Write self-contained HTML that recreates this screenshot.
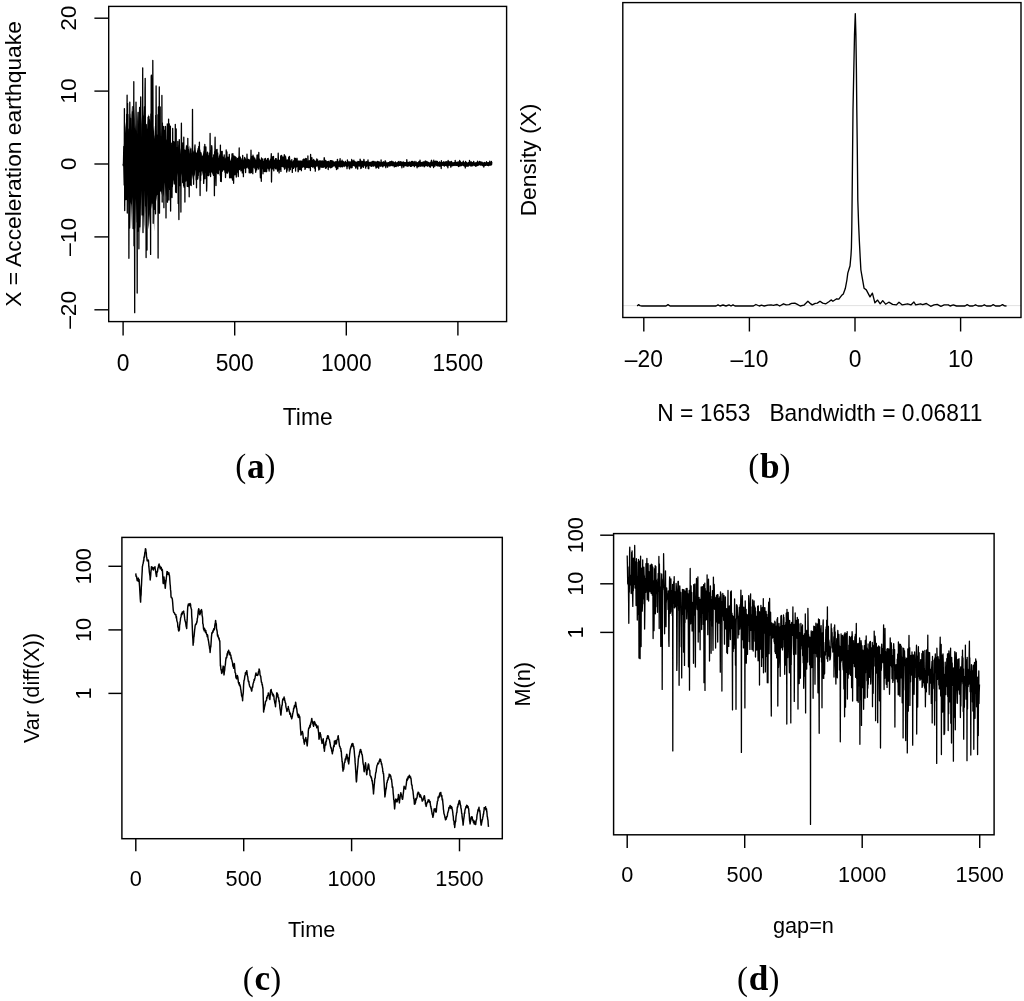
<!DOCTYPE html>
<html><head><meta charset="utf-8"><title>Figure</title>
<style>
html,body{margin:0;padding:0;background:#fff;}
body{width:1024px;height:1001px;overflow:hidden;}
svg{display:block;}
</style></head>
<body>
<svg width="1024" height="1001" viewBox="0 0 1024 1001" font-family="'Liberation Sans', Arial, Helvetica, sans-serif" fill="#000">
<rect width="1024" height="1001" fill="#fff"/>
<polygon fill="#000" points="123.3,164 124,142.7 124.7,132.3 125.4,121.7 126.1,135.1 126.8,123.6 127.5,146.1 128.2,127.9 128.9,129.5 129.6,116.7 130.3,112.9 131,131.1 131.7,105.6 132.4,128.6 133.1,143.9 133.8,147.3 134.5,107.1 135.2,123.9 135.9,129.8 136.6,130.9 137.3,134.5 138,109.9 138.7,124.6 139.4,105.9 140.1,126 140.8,147.6 141.5,115.9 142.2,128.1 142.9,126.9 143.6,109.3 144.3,127.4 145,113.7 145.7,125.2 146.4,132.6 147.1,120.5 147.8,131.3 148.5,113.9 149.2,116.7 149.9,125.4 150.6,121 151.3,122.3 152,130.7 152.7,121.1 153.4,131.7 154.1,125.4 154.8,139.1 155.5,131.2 156.2,129.6 156.9,139.6 157.6,137.4 158.3,139 159,130.8 159.7,141.6 160.4,134.4 161.1,127.9 161.8,136.2 162.5,149.1 163.2,138.9 163.9,134 164.6,142.5 165.3,135.1 166,138.6 166.7,140 167.4,144 168.1,145.6 168.8,144.5 169.5,143.1 170.2,141.1 170.9,142 171.6,145.8 172.3,144.3 173,143.1 173.7,152.8 174.4,149.1 175.1,149.5 175.8,147.1 176.5,147.7 177.2,147.9 177.9,150.7 178.6,144.6 179.3,146.5 180,154.5 180.7,148.1 181.4,152.7 182.1,142 182.8,150.5 183.5,150.4 184.2,148.8 184.9,150.1 185.6,149.8 186.3,144.2 187,149.2 187.7,147.3 188.4,146.5 189.1,153.8 189.8,145.2 190.5,148.7 191.2,148.1 191.9,154.1 192.6,149 193.3,150.5 194,153.6 194.7,145.3 195.4,150.6 196.1,153.1 196.8,152 197.5,150.1 198.2,149.7 198.9,151.4 199.6,149.9 200.3,149.4 201,156.7 201.7,154.9 202.4,156.1 203.1,153.7 203.8,150.5 204.5,152.6 205.2,156.9 205.9,155.2 206.6,152.3 207.3,156 208,155.2 208.7,154.4 209.4,159.2 210.1,153.6 210.8,154.6 211.5,154.2 212.2,157.6 212.9,157.3 213.6,157 214.3,155.4 215,155.8 215.7,155.8 216.4,152.7 217.1,153.7 217.8,157.7 218.5,157.7 219.2,153.4 219.9,157.2 220.6,154.3 221.3,154 222,157.9 222.7,157.5 223.4,156.9 224.1,158.6 224.8,158.8 225.5,157.9 226.2,155.8 226.9,158.1 227.6,157.7 228.3,158.2 229,159.7 229.7,155.1 230.4,161.3 231.1,158.7 231.8,156.8 232.5,159.9 233.2,156.8 233.9,155.9 234.6,159.2 235.3,157.6 236,159.6 236.7,157.3 237.4,157.9 238.1,157.8 238.8,156.2 239.5,157.5 240.2,156.4 240.9,157.4 241.6,160.1 242.3,158.1 243,157.8 243.7,160.5 244.4,156.8 245.1,158.5 245.8,158.2 246.5,159.9 247.2,158.7 247.9,158.4 248.6,159.3 249.3,158.8 250,161.6 250.7,157.3 251.4,160.4 252.1,161.7 252.8,160.3 253.5,160.1 254.2,158.5 254.9,160.3 255.6,158.8 256.3,160.3 257,156.6 257.7,158.6 258.4,157 259.1,160.5 259.8,158.6 260.5,160.5 261.2,158.7 261.9,158.6 262.6,161.2 263.3,160.7 264,160.8 264.7,161.2 265.4,160.3 266.1,160.6 266.8,161.2 267.5,159.5 268.2,159 268.9,161.1 269.6,160.3 270.3,159.7 271,160 271.7,160.5 272.4,158.9 273.1,158.9 273.8,159.1 274.5,160.1 275.2,157.9 275.9,158.1 276.6,160.3 277.3,160.1 278,158.8 278.7,160.8 279.4,159.6 280.1,160 280.8,160.8 281.5,160.3 282.2,161.7 282.9,160.7 283.6,162.1 284.3,158.1 285,158.8 285.7,159.1 286.4,160 287.1,159.4 287.8,159.2 288.5,159.4 289.2,159.6 289.9,161.2 290.6,160.1 291.3,160.9 292,161.5 292.7,161.5 293.4,160.2 294.1,159.7 294.8,161.8 295.5,159.1 296.2,159.4 296.9,161 297.6,161.1 298.3,160.8 299,159.9 299.7,161.1 300.4,161.7 301.1,160.6 301.8,162.5 302.5,160.8 303.2,160 303.9,160.7 304.6,160.4 305.3,160.6 306,160.5 306.7,160.9 307.4,161.6 308.1,161.2 308.8,161.1 309.5,160.1 310.2,159.9 310.9,160.8 311.6,161.6 312.3,161.6 313,161.2 313.7,160.1 314.4,160.9 315.1,161.2 315.8,161.7 316.5,160.5 317.2,160.9 317.9,161.2 318.6,161.1 319.3,160 320,161.3 320.7,160 321.4,160.3 322.1,161.2 322.8,160.6 323.5,161.3 324.2,161.8 324.9,161.4 325.6,161.9 326.3,160.9 327,161.3 327.7,160.9 328.4,160.7 329.1,163.4 329.8,161.1 330.5,162.5 331.2,161.2 331.9,161.9 332.6,161.3 333.3,160.5 334,162.5 334.7,161.3 335.4,161.5 336.1,162.6 336.8,161 337.5,161.4 338.2,161.8 338.9,161.9 339.6,159.4 340.3,161.7 341,162.6 341.7,162.1 342.4,161.7 343.1,161.7 343.8,161.6 344.5,162.2 345.2,161.2 345.9,161.8 346.6,162.4 347.3,162.1 348,161.8 348.7,161.1 349.4,161.3 350.1,161.8 350.8,161.6 351.5,161.5 352.2,160.4 352.9,162 353.6,161.4 354.3,161.2 355,162.2 355.7,161.5 356.4,161.6 357.1,161.9 357.8,161.3 358.5,161.1 359.2,161 359.9,161.8 360.6,161.6 361.3,160.3 362,162.3 362.7,161.6 363.4,161.2 364.1,161.6 364.8,161.3 365.5,161.6 366.2,161.3 366.9,161 367.6,161.9 368.3,161.6 369,161.8 369.7,162 370.4,161.8 371.1,162.4 371.8,161.4 372.5,160.8 373.2,160.8 373.9,161.1 374.6,162.3 375.3,161 376,162.2 376.7,161.8 377.4,160.8 378.1,162.4 378.8,161.4 379.5,161.7 380.2,161.9 380.9,162.3 381.6,161.6 382.3,162.1 383,161.3 383.7,161.2 384.4,162.6 385.1,162.1 385.8,162.1 386.5,162.5 387.2,162.5 387.9,161.9 388.6,162 389.3,162.8 390,162.2 390.7,161.7 391.4,162.6 392.1,162.4 392.8,161.1 393.5,161.3 394.2,162.8 394.9,162.6 395.6,161.8 396.3,162.6 397,162.1 397.7,162.2 398.4,161.7 399.1,163.3 399.8,163.1 400.5,162.6 401.2,161.5 401.9,162.1 402.6,162.9 403.3,161.8 404,161.7 404.7,162.1 405.4,162.2 406.1,161.8 406.8,161.4 407.5,162 408.2,161.8 408.9,162.1 409.6,162.2 410.3,162.5 411,161.9 411.7,162.2 412.4,162.2 413.1,161.6 413.8,161.8 414.5,161.7 415.2,162.8 415.9,161.8 416.6,162.4 417.3,162.5 418,162.5 418.7,161.5 419.4,161.7 420.1,162.4 420.8,162.6 421.5,162.1 422.2,162.3 422.9,161.3 423.6,162.8 424.3,163 425,162.3 425.7,162.1 426.4,162.1 427.1,161.8 427.8,161.2 428.5,162.3 429.2,162.4 429.9,163 430.6,162.1 431.3,161.8 432,162.3 432.7,161.6 433.4,162.2 434.1,161.5 434.8,162 435.5,162.7 436.2,162.5 436.9,162.9 437.6,163 438.3,162.1 439,161.8 439.7,161.3 440.4,162.2 441.1,162.3 441.8,162.7 442.5,161.8 443.2,162.1 443.9,162.5 444.6,161.9 445.3,162 446,163.1 446.7,161.9 447.4,162.2 448.1,162.4 448.8,162.4 449.5,161.5 450.2,161.6 450.9,161.5 451.6,162.8 452.3,162.6 453,161.9 453.7,162.8 454.4,162.6 455.1,163.1 455.8,161.5 456.5,161.9 457.2,162.1 457.9,162.2 458.6,162.5 459.3,162.5 460,162.1 460.7,162.6 461.4,161.8 462.1,162.5 462.8,162.7 463.5,161.8 464.2,162.4 464.9,162.1 465.6,162.5 466.3,163.3 467,162.1 467.7,162.9 468.4,161.9 469.1,163 469.8,163.1 470.5,162.3 471.2,162.2 471.9,162.3 472.6,162.9 473.3,162 474,163 474.7,162.6 475.4,162.7 476.1,162.6 476.8,162.1 477.5,162.7 478.2,162.2 478.9,162.2 479.6,163.1 480.3,162.9 481,162.6 481.7,162.7 482.4,162.3 483.1,163.2 483.8,162.2 484.5,162.2 485.2,162.5 485.9,163 486.6,162.5 487.3,162.7 488,162.3 488.7,162.5 489.4,162.2 490.1,162.7 490.8,162 491.5,163.4 491.5,165.1 490.8,166 490.1,165.1 489.4,165.5 488.7,165.3 488,165 487.3,165.4 486.6,165.7 485.9,165.3 485.2,165.4 484.5,165.6 483.8,165.3 483.1,165.7 482.4,166.1 481.7,164.9 481,165.7 480.3,165.5 479.6,165.2 478.9,164.3 478.2,165.9 477.5,165.9 476.8,166 476.1,165.8 475.4,165.4 474.7,165.4 474,165.5 473.3,165.7 472.6,165.4 471.9,165.5 471.2,165.3 470.5,165.4 469.8,164.7 469.1,165 468.4,165.8 467.7,165.2 467,165.4 466.3,166.2 465.6,165.7 464.9,165.2 464.2,165.5 463.5,165.8 462.8,166 462.1,165 461.4,165.7 460.7,165.6 460,165.6 459.3,166.2 458.6,165.6 457.9,165.8 457.2,166.4 456.5,165.7 455.8,165.5 455.1,165 454.4,165.8 453.7,166 453,166.1 452.3,165.7 451.6,165.7 450.9,165.8 450.2,166.2 449.5,165.3 448.8,165.7 448.1,166.2 447.4,165.7 446.7,166.1 446,165.2 445.3,166.3 444.6,165 443.9,165.9 443.2,165.7 442.5,165.8 441.8,166 441.1,165.9 440.4,165.9 439.7,166.1 439,165.8 438.3,165.6 437.6,165.8 436.9,165.5 436.2,165.1 435.5,165.5 434.8,165.8 434.1,166 433.4,166.5 432.7,165.9 432,165.8 431.3,165.6 430.6,166.2 429.9,166.2 429.2,165 428.5,165.9 427.8,165.8 427.1,165.8 426.4,166.2 425.7,166 425,166.4 424.3,165.2 423.6,165.8 422.9,165.3 422.2,167 421.5,165.3 420.8,166.2 420.1,166.4 419.4,166.3 418.7,165.6 418,165 417.3,165.6 416.6,166.1 415.9,165.1 415.2,165.9 414.5,166.8 413.8,166.3 413.1,166 412.4,164.4 411.7,166.4 411,166.1 410.3,166.5 409.6,165.8 408.9,165.8 408.2,165.7 407.5,165.9 406.8,166.7 406.1,165.5 405.4,165.6 404.7,165.8 404,165.6 403.3,165.6 402.6,165.3 401.9,166.1 401.2,166.9 400.5,165.8 399.8,165.9 399.1,165.9 398.4,165.8 397.7,165.5 397,165.1 396.3,165.7 395.6,165.1 394.9,165.7 394.2,165.8 393.5,165.5 392.8,166.3 392.1,165 391.4,165.8 390.7,165.8 390,165.9 389.3,165 388.6,166.6 387.9,166.1 387.2,165.9 386.5,166.2 385.8,166.2 385.1,166.6 384.4,166 383.7,166.3 383,166 382.3,167.1 381.6,166.2 380.9,166.2 380.2,166.9 379.5,165.1 378.8,165.5 378.1,165.7 377.4,165.8 376.7,165.9 376,165.5 375.3,166.5 374.6,165.2 373.9,166 373.2,165.5 372.5,166.3 371.8,166.3 371.1,166.1 370.4,165.4 369.7,165.9 369,166 368.3,165.9 367.6,165.7 366.9,167.1 366.2,166.7 365.5,165.9 364.8,165.9 364.1,165.4 363.4,165.9 362.7,166.7 362,166.3 361.3,167 360.6,166 359.9,165 359.2,166.2 358.5,165.4 357.8,166.1 357.1,166.4 356.4,167.2 355.7,166.7 355,167.3 354.3,166.3 353.6,165.8 352.9,165.4 352.2,165.5 351.5,166 350.8,166.1 350.1,166.3 349.4,165.8 348.7,166.2 348,165.9 347.3,167.5 346.6,165.5 345.9,165.5 345.2,166 344.5,166.6 343.8,165.9 343.1,166.7 342.4,167.7 341.7,166.9 341,167.4 340.3,167.3 339.6,166.1 338.9,167.2 338.2,166.6 337.5,165.3 336.8,167.3 336.1,165.2 335.4,165.1 334.7,165.4 334,166.4 333.3,166.1 332.6,166.9 331.9,166.7 331.2,166.5 330.5,166.5 329.8,166.8 329.1,165.7 328.4,166.3 327.7,166.2 327,166.2 326.3,166.4 325.6,166.7 324.9,167 324.2,166.3 323.5,167.4 322.8,167.3 322.1,167.2 321.4,167.4 320.7,167.8 320,167.3 319.3,166.8 318.6,166.2 317.9,166.4 317.2,166.4 316.5,166.2 315.8,167.2 315.1,167 314.4,166.2 313.7,167.1 313,167.6 312.3,166.8 311.6,167 310.9,167 310.2,167.5 309.5,166.1 308.8,167.4 308.1,168 307.4,167.3 306.7,168 306,168 305.3,166.6 304.6,168 303.9,167.4 303.2,167.2 302.5,168.1 301.8,167.6 301.1,167.7 300.4,167.5 299.7,165.9 299,167.1 298.3,167.5 297.6,167.1 296.9,166.8 296.2,167.9 295.5,166.5 294.8,166.4 294.1,167.3 293.4,168 292.7,166.4 292,167.4 291.3,167.8 290.6,167.4 289.9,168.3 289.2,167 288.5,167.9 287.8,168.8 287.1,166.7 286.4,167.3 285.7,169.3 285,166.8 284.3,167.4 283.6,167.6 282.9,167.7 282.2,165.9 281.5,165.6 280.8,167.2 280.1,166.7 279.4,165.6 278.7,167.8 278,166.1 277.3,168.8 276.6,167.8 275.9,167.3 275.2,167.1 274.5,166.4 273.8,167.2 273.1,167.9 272.4,167.5 271.7,168.3 271,167.5 270.3,167.9 269.6,168.4 268.9,168.1 268.2,168 267.5,169 266.8,167.1 266.1,168.1 265.4,168.9 264.7,167.3 264,169.6 263.3,167.1 262.6,168.5 261.9,168.3 261.2,169.8 260.5,168.3 259.8,166.3 259.1,167.7 258.4,167.5 257.7,168.4 257,167.9 256.3,169 255.6,168.3 254.9,168.4 254.2,166.1 253.5,168.4 252.8,167.5 252.1,167.1 251.4,167.8 250.7,168.9 250,170.4 249.3,169.9 248.6,168.8 247.9,169 247.2,166.8 246.5,169.1 245.8,166.4 245.1,167.5 244.4,169.2 243.7,168.9 243,168.5 242.3,168.8 241.6,169.1 240.9,172.2 240.2,169.4 239.5,169.3 238.8,169.8 238.1,170.5 237.4,170.4 236.7,170.1 236,170.9 235.3,170.6 234.6,171.2 233.9,170.8 233.2,169 232.5,169 231.8,170.6 231.1,169.2 230.4,169.6 229.7,167.6 229,169.3 228.3,170.7 227.6,169.2 226.9,170.5 226.2,168.7 225.5,170.5 224.8,167.3 224.1,168.1 223.4,169.8 222.7,169.7 222,166.9 221.3,170.1 220.6,169.4 219.9,171.1 219.2,169.8 218.5,168.1 217.8,169.4 217.1,170.2 216.4,170.1 215.7,169 215,169.9 214.3,171.4 213.6,171.4 212.9,172.6 212.2,174.8 211.5,167.5 210.8,170.3 210.1,172.5 209.4,172.9 208.7,171.5 208,170.8 207.3,171 206.6,173.3 205.9,173.4 205.2,172 204.5,171.5 203.8,170.7 203.1,169.6 202.4,175.8 201.7,170 201,171.8 200.3,170.7 199.6,170.5 198.9,173.9 198.2,170.8 197.5,173.3 196.8,173.3 196.1,176 195.4,168.2 194.7,176.8 194,174.8 193.3,171.6 192.6,180.1 191.9,172.9 191.2,177.9 190.5,178.7 189.8,171.9 189.1,175.8 188.4,179.9 187.7,171.4 187,177.6 186.3,172.8 185.6,177.8 184.9,178.1 184.2,178.6 183.5,172.2 182.8,179.8 182.1,178.6 181.4,173.3 180.7,177.4 180,178.9 179.3,184.7 178.6,184.1 177.9,176.2 177.2,172.7 176.5,183.3 175.8,180.2 175.1,184.3 174.4,183.2 173.7,179.3 173,183.5 172.3,182.3 171.6,185.2 170.9,184.4 170.2,186.3 169.5,176.8 168.8,181 168.1,189.5 167.4,184.9 166.7,194 166,196.9 165.3,188.8 164.6,182 163.9,193.6 163.2,197.1 162.5,187.5 161.8,194.9 161.1,191.6 160.4,184.6 159.7,196.2 159,201.5 158.3,195.7 157.6,194.8 156.9,195.6 156.2,201.5 155.5,191.5 154.8,199.3 154.1,231.8 153.4,202.6 152.7,201.1 152,209.2 151.3,204.8 150.6,179 149.9,214 149.2,222.9 148.5,229.6 147.8,208.4 147.1,194.3 146.4,219.2 145.7,210.2 145,189.7 144.3,229.2 143.6,217.3 142.9,214.2 142.2,204.8 141.5,190.2 140.8,233 140.1,205.1 139.4,175.9 138.7,214.1 138,210.8 137.3,223.6 136.6,222.1 135.9,198.8 135.2,229.3 134.5,222.4 133.8,217.4 133.1,218 132.4,196.9 131.7,207.1 131,229.5 130.3,202.2 129.6,204.1 128.9,205.3 128.2,197.9 127.5,192.2 126.8,199.8 126.1,187.3 125.4,201.8 124.7,182.9 124,183.6 123.3,164"/>
<polyline fill="none" stroke="#000" stroke-width="1.3" stroke-linejoin="round"  points="123.1,164 123.3,165.7 123.5,161.6 123.8,146.5 124,156.3 124.2,185.1 124.4,108.6 124.7,210.5 124.9,190.7 125.1,189.1 125.3,142.7 125.6,181.3 125.8,173.6 126,199.6 126.2,156.7 126.4,192.7 126.7,114.2 126.9,142.6 127.1,95.2 127.3,213.1 127.6,103.5 127.8,149.4 128,114.5 128.2,180 128.5,151.8 128.7,177.3 128.9,258.3 129.1,189.8 129.3,155.2 129.6,228.1 129.8,102.1 130,188.4 130.2,121.5 130.5,200.5 130.7,118.4 130.9,200.5 131.1,155.6 131.4,203.5 131.6,135.4 131.8,175.4 132,152.6 132.3,173.7 132.5,111.7 132.7,174.2 132.9,106.6 133.1,228.5 133.4,124.8 133.6,152.2 133.8,81.7 134,245.8 134.3,128.2 134.5,216.2 134.7,312.7 134.9,134.9 135.2,149.4 135.4,197.2 135.6,154 135.8,196.7 136,102.1 136.3,130.9 136.5,148.7 136.7,189.2 136.9,176.5 137.2,293 137.4,134.2 137.6,179.2 137.8,121.9 138.1,112.3 138.3,231.2 138.5,202.3 138.7,131.3 138.9,248.8 139.2,126.5 139.4,175.5 139.6,107.4 139.8,226.8 140.1,143.4 140.3,186.2 140.5,146.5 140.7,96.9 141,139.6 141.2,183.6 141.4,142.5 141.6,176.4 141.8,179.4 142.1,214.9 142.3,155.8 142.5,139.1 142.7,67.8 143,232.5 143.2,172.7 143.4,197.5 143.6,143.2 143.9,115.8 144.1,156.1 144.3,133.9 144.5,106.7 144.8,185 145,91.5 145.2,78.3 145.4,135.5 145.6,206.1 145.9,150.1 146.1,257.5 146.3,124.6 146.5,195.5 146.8,129.2 147,250 147.2,149.7 147.4,148.5 147.7,129.7 147.9,136.6 148.1,117.1 148.3,174.6 148.5,155.1 148.8,116.5 149,146.6 149.2,124 149.4,119.7 149.7,149.2 149.9,153.1 150.1,193.8 150.3,152 150.6,254.4 150.8,113.9 151,185.2 151.2,76.5 151.4,75.1 151.7,90.9 151.9,199.9 152.1,203.1 152.3,200.3 152.6,176.2 152.8,60.5 153,111.3 153.2,223.3 153.5,173.5 153.7,180.9 153.9,176.7 154.1,205.3 154.3,209.3 154.6,189.7 154.8,155.4 155,197.9 155.2,136 155.5,213.8 155.7,115.3 155.9,175.8 156.1,86 156.4,171 156.6,134.9 156.8,181 157,188.4 157.2,170.6 157.5,145.8 157.7,179.7 157.9,114.7 158.1,258 158.4,106.9 158.6,190.6 158.8,125.9 159,180.2 159.3,86.8 159.5,213.2 159.7,151.9 159.9,139.6 160.2,107 160.4,191 160.6,157.6 160.8,156.3 161,137.2 161.3,182.2 161.5,143.6 161.7,184.6 161.9,95.5 162.2,202.1 162.4,123 162.6,182.7 162.8,151.1 163.1,170.1 163.3,147.5 163.5,145.9 163.7,126.5 163.9,207.7 164.2,155.2 164.4,169.5 164.6,130.3 164.8,142.6 165.1,178 165.3,182.2 165.5,126.5 165.7,137 166,217.9 166.2,171.9 166.4,146.9 166.6,141.6 166.8,140.6 167.1,189.3 167.3,123.9 167.5,202.2 167.7,132 168,187.3 168.2,148.8 168.4,187.3 168.6,119.1 168.9,200.1 169.1,135.3 169.3,124 169.5,185.4 169.7,189.4 170,159.6 170.2,185.5 170.4,126.2 170.6,211.1 170.9,154.7 171.1,159.1 171.3,155.1 171.5,168.7 171.8,143.1 172,197.6 172.2,156.9 172.4,186.7 172.7,128.5 172.9,177.5 173.1,159 173.3,152.5 173.5,141.7 173.8,180 174,141.8 174.2,184 174.4,156.8 174.7,181.9 174.9,154 175.1,173.7 175.3,124.3 175.6,192.2 175.8,144.8 176,158.9 176.2,129 176.4,192.5 176.7,152.7 176.9,147.9 177.1,168.8 177.3,168.7 177.6,155.8 177.8,141.5 178,160.3 178.2,203.4 178.5,149.5 178.7,199.1 178.9,219.5 179.1,175.7 179.3,139.6 179.6,167.9 179.8,185.5 180,181.8 180.2,184.6 180.5,169.5 180.7,160.2 180.9,212.1 181.1,160.4 181.4,123.2 181.6,152.8 181.8,157.8 182,145.7 182.2,153.6 182.5,151.2 182.7,182.7 182.9,142.9 183.1,168.8 183.4,161.1 183.6,185.4 183.8,137.2 184,187 184.3,154.8 184.5,177.3 184.7,156.1 184.9,202.1 185.1,157.9 185.4,167.5 185.6,160.2 185.8,181 186,157.8 186.3,169 186.5,145.8 186.7,157 186.9,161.3 187.2,186.3 187.4,154.3 187.6,171.5 187.8,138.3 188.1,186.5 188.3,149.3 188.5,150 188.7,153.1 188.9,167.9 189.2,196.8 189.4,169.6 189.6,158.8 189.8,167.1 190.1,184.9 190.3,173.2 190.5,160.9 190.7,180.4 191,154 191.2,185.5 191.4,155.6 191.6,167.2 191.8,170.4 192.1,148.7 192.3,160.9 192.5,109.3 192.7,157.2 193,168.9 193.2,159.2 193.4,167.5 193.6,184.3 193.9,159.1 194.1,152.2 194.3,151.9 194.5,153.2 194.7,155.4 195,145 195.2,169.6 195.4,155.2 195.6,168.3 195.9,161.8 196.1,180 196.3,171.1 196.5,187.8 196.8,159.1 197,168.3 197.2,177.2 197.4,158.5 197.6,179.2 197.9,177.7 198.1,148.6 198.3,175.5 198.5,150.8 198.8,146.3 199,159.3 199.2,171.7 199.4,142.2 199.7,168 199.9,172 200.1,195.6 200.3,161.6 200.6,180.7 200.8,152.5 201,175.3 201.2,153.6 201.4,170.9 201.7,159.2 201.9,158.9 202.1,160 202.3,168.8 202.6,159.2 202.8,166.3 203,160.1 203.2,166.7 203.5,170.6 203.7,183.4 203.9,178.5 204.1,166.4 204.3,146.6 204.6,171.8 204.8,144.3 205,178.7 205.2,154.4 205.5,172.2 205.7,160.8 205.9,146.9 206.1,158.9 206.4,171.8 206.6,191 206.8,185.7 207,160.3 207.2,172.6 207.5,152.1 207.7,166.2 207.9,160.7 208.1,175.6 208.4,161.3 208.6,175.6 208.8,175.2 209,174.8 209.3,153.1 209.5,169.7 209.7,158 209.9,166.8 210.1,133.4 210.4,168.5 210.6,176.6 210.8,150.3 211,172.3 211.3,167.3 211.5,160.5 211.7,145.7 211.9,148.1 212.2,172.1 212.4,160.9 212.6,168.8 212.8,159.3 213,174 213.3,160.7 213.5,175.4 213.7,154.9 213.9,172.1 214.2,158.7 214.4,195.7 214.6,151.6 214.8,157.6 215.1,137.2 215.3,159.4 215.5,160.1 215.7,174.5 216,185.6 216.2,166.9 216.4,150 216.6,157.4 216.8,161.2 217.1,149.4 217.3,168.5 217.5,173.2 217.7,152.8 218,173.8 218.2,159.9 218.4,173.5 218.6,158.6 218.9,169 219.1,162.1 219.3,169.6 219.5,156.2 219.7,167.8 220,154.8 220.2,175.2 220.4,145.1 220.6,181.3 220.9,151.1 221.1,165.5 221.3,181.5 221.5,172.7 221.8,156.2 222,169.3 222.2,151.5 222.4,171.2 222.6,168.3 222.9,167.1 223.1,157.1 223.3,169.7 223.5,161.4 223.8,169.8 224,165.8 224.2,154.8 224.4,161.8 224.7,165.8 224.9,172.2 225.1,171.8 225.3,165.7 225.5,177.5 225.8,170 226,173 226.2,150 226.4,165.8 226.7,154.9 226.9,152 227.1,172.9 227.3,170.5 227.6,173.1 227.8,160 228,157.1 228.2,170.3 228.5,158.7 228.7,170.5 228.9,159.7 229.1,171.9 229.3,154.5 229.6,177.7 229.8,177.8 230,167.5 230.2,167 230.5,165.5 230.7,166.4 230.9,165.7 231.1,177.9 231.4,172.1 231.6,175.5 231.8,171.9 232,154 232.2,170.2 232.5,180 232.7,171.5 232.9,153.7 233.1,167.6 233.4,174.2 233.6,183.3 233.8,168.6 234,155.9 234.3,171.9 234.5,172.1 234.7,160.9 234.9,174.8 235.1,156.6 235.4,173.9 235.6,157.6 235.8,167.8 236,157.3 236.3,177 236.5,160.3 236.7,165.4 236.9,162.3 237.2,165.8 237.4,172.1 237.6,162.4 237.8,162.6 238,173 238.3,176.5 238.5,162 238.7,169.8 238.9,166.5 239.2,148 239.4,169.6 239.6,161.1 239.8,156.7 240.1,159.3 240.3,165.8 240.5,161.4 240.7,166.2 240.9,158.6 241.2,170.6 241.4,166.5 241.6,168.3 241.8,161.5 242.1,165.2 242.3,172.9 242.5,165.5 242.7,155.3 243,168.6 243.2,166.8 243.4,176.7 243.6,162.4 243.9,162 244.1,166 244.3,167.5 244.5,160.8 244.7,157.5 245,160.8 245.2,168.1 245.4,162.4 245.6,172.6 245.9,161.6 246.1,165.9 246.3,162.2 246.5,167.4 246.8,160 247,154.1 247.2,160.5 247.4,166.3 247.6,166.5 247.9,167.1 248.1,159.5 248.3,166.4 248.5,159.6 248.8,167.3 249,161.9 249.2,172.8 249.4,160.2 249.7,171 249.9,170.2 250.1,166.2 250.3,172.9 250.5,169.8 250.8,162.2 251,150.2 251.2,161.1 251.4,172.5 251.7,156.5 251.9,168.2 252.1,156.6 252.3,166.9 252.6,166.3 252.8,173.7 253,155.1 253.2,165.5 253.4,159.8 253.7,156.8 253.9,159.6 254.1,167.1 254.3,166.9 254.6,165.5 254.8,158.2 255,168.7 255.2,162.8 255.5,168.5 255.7,172.3 255.9,170.2 256.1,161.1 256.4,161.5 256.6,161.3 256.8,169.8 257,155.2 257.2,167.7 257.5,162.8 257.7,166.4 257.9,155 258.1,166.7 258.4,160.2 258.6,169 258.8,152.4 259,166.5 259.3,158.8 259.5,166.7 259.7,160.3 259.9,163 260.1,168.5 260.4,177.8 260.6,162.5 260.8,167.4 261,159.9 261.3,181.3 261.5,157.9 261.7,166.4 261.9,166.3 262.2,168.5 262.4,160.6 262.6,165.1 262.8,159 263,173.8 263.3,162.4 263.5,165.1 263.7,162.2 263.9,171 264.2,163 264.4,171.5 264.6,158.8 264.8,162.3 265.1,161 265.3,159.6 265.5,158.5 265.7,171.6 265.9,168.9 266.2,166.4 266.4,160.2 266.6,171.6 266.8,169.4 267.1,167 267.3,161 267.5,166.9 267.7,158.6 268,165.9 268.2,158.4 268.4,168.8 268.6,168.6 268.8,162.3 269.1,171.1 269.3,167.8 269.5,166 269.7,168.8 270,162.8 270.2,166.3 270.4,159.3 270.6,167.5 270.9,166.7 271.1,158 271.3,153.7 271.5,182 271.8,162.9 272,165.8 272.2,156.7 272.4,165.4 272.6,168.9 272.9,166.3 273.1,161.3 273.3,168.3 273.5,156.4 273.8,170.8 274,160.4 274.2,167.9 274.4,162.6 274.7,165.7 274.9,160.7 275.1,166.2 275.3,166.8 275.5,168.4 275.8,161.7 276,169 276.2,158.6 276.4,164.9 276.7,167.8 276.9,167.3 277.1,162.3 277.3,167.6 277.6,171.2 277.8,168.9 278,161.7 278.2,153.2 278.4,159.4 278.7,162.8 278.9,167.6 279.1,172.9 279.3,162.3 279.6,166.2 279.8,169.5 280,166.7 280.2,160.6 280.5,166.7 280.7,155.8 280.9,171.4 281.1,161.1 281.3,156.9 281.6,155.5 281.8,160.8 282,165.5 282.2,166.4 282.5,160.7 282.7,166 282.9,156.9 283.1,161.9 283.4,160.5 283.6,162 283.8,161 284,166 284.3,154.7 284.5,169.2 284.7,165.7 284.9,168.8 285.1,156 285.4,164.8 285.6,156.7 285.8,160 286,158.9 286.3,166.5 286.5,165 286.7,172 286.9,162 287.2,170.2 287.4,162.2 287.6,165.1 287.8,162.2 288,165 288.3,161.4 288.5,166.9 288.7,157.3 288.9,164.8 289.2,171.2 289.4,156.3 289.6,158.7 289.8,160.8 290.1,160.9 290.3,169.7 290.5,163.1 290.7,164.9 290.9,162.3 291.2,165 291.4,161.8 291.6,163 291.8,159.6 292.1,166 292.3,172.4 292.5,164.9 292.7,162.5 293,166.5 293.2,167.1 293.4,168.4 293.6,162.6 293.8,167.7 294.1,165.6 294.3,165.1 294.5,158.2 294.7,166.9 295,163.1 295.2,166.4 295.4,158.4 295.6,171.1 295.9,161.2 296.1,166.4 296.3,161.2 296.5,166.6 296.7,158.8 297,158.3 297.2,159.5 297.4,165.6 297.6,161.2 297.9,166.4 298.1,171.8 298.3,171.2 298.5,162.2 298.8,169.4 299,161.3 299.2,165.8 299.4,165.6 299.7,169.6 299.9,162.7 300.1,169.4 300.3,161 300.5,167.5 300.8,168.4 301,162 301.2,161.4 301.4,170.7 301.7,161.2 301.9,165 302.1,162.3 302.3,163.1 302.6,161.5 302.8,164.7 303,159.7 303.2,162.1 303.4,160.4 303.7,165.8 303.9,159 304.1,162.9 304.3,162.6 304.6,165.2 304.8,159.4 305,169.4 305.2,163.1 305.5,168.2 305.7,158.4 305.9,165.4 306.1,163.2 306.3,158.6 306.6,163.1 306.8,161.6 307,166.2 307.2,166.7 307.5,163.3 307.7,167.4 307.9,156 308.1,167.5 308.4,162.1 308.6,161 308.8,161.2 309,167.8 309.2,165.9 309.5,164.7 309.7,167.3 309.9,167.3 310.1,162.1 310.4,170.5 310.6,154.4 310.8,162.3 311,163 311.3,165.1 311.5,158.5 311.7,162.2 311.9,157.7 312.2,166.1 312.4,164.8 312.6,167 312.8,161.7 313,161.9 313.3,160.2 313.5,166.7 313.7,159.5 313.9,165.1 314.2,160.3 314.4,168.2 314.6,160.9 314.8,166.2 315.1,165 315.3,171.2 315.5,161.4 315.7,162.1 315.9,163.2 316.2,165.4 316.4,160.2 316.6,165.8 316.8,158.8 317.1,165.3 317.3,163.4 317.5,164.8 317.7,160 318,165.4 318.2,161.3 318.4,167.4 318.6,166.8 318.8,170 319.1,161.5 319.3,165.2 319.5,164.9 319.7,169.2 320,161.1 320.2,164.8 320.4,162.3 320.6,166.4 320.9,162.4 321.1,165.3 321.3,162.8 321.5,163.2 321.7,163.2 322,167.4 322.2,163.4 322.4,161.3 322.6,161 322.9,165.1 323.1,161.8 323.3,167.2 323.5,165 323.8,167.2 324,160.7 324.2,157.7 324.4,158.5 324.6,163 324.9,166.3 325.1,164.8 325.3,163.3 325.5,168.3 325.8,160.3 326,167.1 326.2,163.4 326.4,167.9 326.7,162.4 326.9,166.1 327.1,162.8 327.3,166.3 327.6,164.6 327.8,165.7 328,162.3 328.2,169.6 328.4,161.4 328.7,166.2 328.9,163.2 329.1,164.6 329.3,167 329.6,165.6 329.8,161.8 330,164.9 330.2,160.7 330.5,167.8 330.7,160.7 330.9,162 331.1,160.9 331.3,160.6 331.6,163.3 331.8,167.5 332,162.7 332.2,166.6 332.5,160.8 332.7,165.5 332.9,165.4 333.1,166.1 333.4,162.1 333.6,165.3 333.8,163.5 334,165.7 334.2,162.4 334.5,163.4 334.7,163.5 334.9,165.7 335.1,162.6 335.4,167 335.6,163.1 335.8,161.6 336,167.2 336.3,166.6 336.5,169.5 336.7,166.3 336.9,161.7 337.1,165.2 337.4,159.4 337.6,159.8 337.8,168.8 338,166.6 338.3,165.9 338.5,161.8 338.7,161.9 338.9,164.6 339.2,162.6 339.4,165.9 339.6,163.4 339.8,166.7 340.1,158.7 340.3,162.2 340.5,166.7 340.7,166.5 340.9,163.1 341.2,161.7 341.4,162.8 341.6,166.4 341.8,161.6 342.1,160.2 342.3,163.5 342.5,165.5 342.7,161.4 343,164.7 343.2,161.3 343.4,164.5 343.6,163.4 343.8,165.6 344.1,166.7 344.3,165.1 344.5,164.9 344.7,164.8 345,164.6 345.2,161.7 345.4,161.4 345.6,165.3 345.9,162.6 346.1,166.1 346.3,165.2 346.5,165.2 346.7,162.7 347,168.6 347.2,165.2 347.4,159.9 347.6,161.6 347.9,165.8 348.1,162.8 348.3,165.3 348.5,163.5 348.8,163.5 349,165 349.2,168.1 349.4,163.1 349.6,168.9 349.9,165.2 350.1,165.9 350.3,162.2 350.5,164.8 350.8,163.1 351,167.3 351.2,167.9 351.4,166.5 351.7,159.5 351.9,166.3 352.1,167.6 352.3,161.5 352.5,165.7 352.8,160.9 353,163 353.2,163 353.4,163.5 353.7,165.5 353.9,160.2 354.1,164.8 354.3,163.4 354.6,161.7 354.8,162.5 355,164.9 355.2,162 355.5,164.5 355.7,167.8 355.9,168.2 356.1,165 356.3,166.1 356.6,162.9 356.8,165.9 357,163.1 357.2,167 357.5,163.4 357.7,169 357.9,161.4 358.1,166.5 358.4,162 358.6,165.1 358.8,161.7 359,162.1 359.2,162.3 359.5,166 359.7,162 359.9,165.1 360.1,159.2 360.4,160.7 360.6,162.3 360.8,168.5 361,165.8 361.3,165.5 361.5,162.7 361.7,167.8 361.9,161.5 362.1,166.5 362.4,166 362.6,161.5 362.8,162.3 363,161.9 363.3,164.6 363.5,167.3 363.7,161 363.9,159.3 364.2,161.6 364.4,164.9 364.6,164.8 364.8,164.7 365,163.1 365.3,164.7 365.5,166.4 365.7,168.2 365.9,163.6 366.2,162.4 366.4,163.4 366.6,164.8 366.8,162 367.1,165.5 367.3,162.2 367.5,165 367.7,162.4 368,160 368.2,168.4 368.4,166.9 368.6,164.9 368.8,168.8 369.1,162.3 369.3,164.7 369.5,163.3 369.7,165.3 370,163.3 370.2,165.3 370.4,162.4 370.6,165 370.9,165.1 371.1,166.4 371.3,163.6 371.5,162.1 371.7,163.3 372,166.1 372.2,161.8 372.4,162.8 372.6,163.1 372.9,164.4 373.1,164.6 373.3,164.9 373.5,165.6 373.8,166.2 374,161.4 374.2,164.4 374.4,162.4 374.6,165.2 374.9,162.5 375.1,164.6 375.3,162.5 375.5,166.2 375.8,162.4 376,168.1 376.2,162.5 376.4,167.7 376.7,163.6 376.9,166.1 377.1,162.6 377.3,161.5 377.5,162.4 377.8,167.3 378,163.1 378.2,164.3 378.4,161.9 378.7,168.3 378.9,161.6 379.1,164.6 379.3,163.1 379.6,162.7 379.8,165.3 380,166 380.2,163.6 380.4,165.8 380.7,163.6 380.9,164.5 381.1,159.9 381.3,165.7 381.6,163.5 381.8,164.6 382,163 382.2,166 382.5,162.9 382.7,165.6 382.9,166.9 383.1,165.8 383.4,162.8 383.6,164.4 383.8,162.1 384,164.9 384.2,163.6 384.5,165.1 384.7,162.8 384.9,164.7 385.1,160.9 385.4,166.1 385.6,161.2 385.8,167.7 386,163.2 386.3,164.6 386.5,163.1 386.7,165.5 386.9,163.6 387.1,164.3 387.4,163.6 387.6,167.2 387.8,163.5 388,165.6 388.3,165.1 388.5,163.4 388.7,162.7 388.9,165.7 389.2,162.9 389.4,165.7 389.6,161.9 389.8,166 390,161.6 390.3,164.5 390.5,163.4 390.7,165.5 390.9,161.7 391.2,164.6 391.4,162.9 391.6,164.8 391.8,161.1 392.1,165.6 392.3,163.7 392.5,165.6 392.7,162.2 392.9,164.4 393.2,163.4 393.4,165.5 393.6,163.1 393.8,163.3 394.1,162.8 394.3,166.9 394.5,163.7 394.7,166.5 395,165.6 395.2,166.4 395.4,161.9 395.6,166.2 395.9,163.4 396.1,166.5 396.3,165.3 396.5,166.1 396.7,164.8 397,165.3 397.2,163.2 397.4,164.7 397.6,162.8 397.9,166 398.1,161.9 398.3,166 398.5,161.7 398.8,165.3 399,161.5 399.2,164.5 399.4,163.3 399.6,164.8 399.9,162.4 400.1,164.8 400.3,162.4 400.5,161.6 400.8,162.7 401,164.6 401.2,162.4 401.4,162.2 401.7,164.8 401.9,167.8 402.1,162.7 402.3,164.9 402.5,165.7 402.8,163.4 403,162 403.2,162.2 403.4,162.1 403.7,167.2 403.9,163.1 404.1,166.1 404.3,163.4 404.6,163.1 404.8,162.7 405,165.4 405.2,163 405.4,165.6 405.7,163.5 405.9,165.4 406.1,162.8 406.3,163.2 406.6,163.6 406.8,159.7 407,162.7 407.2,166.2 407.5,163.6 407.7,163.5 407.9,162.7 408.1,162.5 408.3,166.1 408.6,164.7 408.8,162.9 409,165 409.2,163 409.5,165.1 409.7,161.8 409.9,163.1 410.1,165.8 410.4,166.4 410.6,163.5 410.8,166.4 411,162.1 411.3,166.3 411.5,161.5 411.7,165.5 411.9,162 412.1,162.9 412.4,161.3 412.6,165.7 412.8,163.6 413,163.4 413.3,163.6 413.5,164.5 413.7,163 413.9,163.7 414.2,161.5 414.4,166.6 414.6,164.6 414.8,165.5 415,163.4 415.3,165.4 415.5,163.6 415.7,165.3 415.9,161.5 416.2,165.8 416.4,162.9 416.6,165.1 416.8,163.5 417.1,167.8 417.3,162.7 417.5,164.6 417.7,166.4 417.9,163.3 418.2,163.4 418.4,166.2 418.6,161.8 418.8,166.7 419.1,163.7 419.3,164.6 419.5,161.5 419.7,165.5 420,160.1 420.2,162.8 420.4,166 420.6,163 420.8,162.4 421.1,166.1 421.3,165.9 421.5,164.6 421.7,163.4 422,162.5 422.2,163.2 422.4,163.2 422.6,165.3 422.9,166 423.1,163.6 423.3,162.8 423.5,162 423.8,162 424,163.1 424.2,166.8 424.4,161.9 424.6,166.5 424.9,163.5 425.1,164.8 425.3,161 425.5,161.7 425.8,162.8 426,162.5 426.2,163.4 426.4,163.3 426.7,161.5 426.9,164.7 427.1,162.2 427.3,166 427.5,163.3 427.8,163.3 428,166.1 428.2,165.6 428.4,162.4 428.7,165 428.9,162.9 429.1,165.1 429.3,163 429.6,166.6 429.8,163.3 430,164.8 430.2,163 430.4,167.1 430.7,163.4 430.9,165.3 431.1,161.7 431.3,160.9 431.6,160.3 431.8,165.7 432,165.5 432.2,165.9 432.5,162.5 432.7,164.5 432.9,162.2 433.1,165.1 433.3,162.8 433.6,167.5 433.8,160.1 434,165.2 434.2,161.4 434.5,165.4 434.7,161.8 434.9,166.3 435.1,161.7 435.4,164.3 435.6,162.2 435.8,164.5 436,160.9 436.2,161.5 436.5,163.6 436.7,165.5 436.9,163.5 437.1,164.4 437.4,161.3 437.6,165.9 437.8,163.7 438,165.8 438.3,162.7 438.5,165.4 438.7,162.6 438.9,165.8 439.2,163.4 439.4,162.1 439.6,163.6 439.8,166.3 440,162.8 440.3,164.5 440.5,162.6 440.7,165.7 440.9,162.2 441.2,168.5 441.4,160.7 441.6,164.9 441.8,162.8 442.1,165.2 442.3,164.7 442.5,162.7 442.7,164.6 442.9,164.6 443.2,163 443.4,165 443.6,164.8 443.8,161.6 444.1,163.2 444.3,166.1 444.5,163.6 444.7,165.5 445,163.6 445.2,164.8 445.4,161.9 445.6,165.3 445.8,162.6 446.1,165.2 446.3,161.6 446.5,165.3 446.7,163.3 447,166.1 447.2,161.8 447.4,166.1 447.6,162.9 447.9,167.8 448.1,160.4 448.3,161.8 448.5,162.4 448.7,164.5 449,163.5 449.2,164.4 449.4,161.9 449.6,165.1 449.9,163.2 450.1,163.5 450.3,162.2 450.5,164.4 450.8,167.2 451,165.2 451.2,163.4 451.4,161.3 451.7,162.2 451.9,165.9 452.1,162.6 452.3,164.9 452.5,164.3 452.8,165.6 453,163.3 453.2,164.9 453.4,163.1 453.7,162.8 453.9,162.9 454.1,165 454.3,162.6 454.6,164.6 454.8,163.6 455,165.5 455.2,160.4 455.4,162.7 455.7,163.7 455.9,164.5 456.1,162.7 456.3,165.4 456.6,162.5 456.8,164.7 457,163.2 457.2,165.2 457.5,163.3 457.7,164.5 457.9,162.2 458.1,161.7 458.3,163.1 458.6,166.5 458.8,162.8 459,166.1 459.2,163.4 459.5,165.1 459.7,160.4 459.9,165.8 460.1,165.7 460.4,161.6 460.6,163.2 460.8,165.2 461,165.8 461.2,165.1 461.5,164.8 461.7,165.4 461.9,165.1 462.1,163 462.4,163.6 462.6,164.4 462.8,163.2 463,162 463.3,161.2 463.5,165.7 463.7,162.8 463.9,164.7 464.1,164.4 464.4,164.9 464.6,163.2 464.8,166.4 465,162.8 465.3,167.9 465.5,161.4 465.7,165.5 465.9,163.3 466.2,164.4 466.4,166 466.6,162.3 466.8,163.5 467.1,166.1 467.3,163.5 467.5,165.2 467.7,163.6 467.9,164.8 468.2,166.2 468.4,165.4 468.6,162.6 468.8,165.8 469.1,162.9 469.3,163.6 469.5,160.5 469.7,164.3 470,162.4 470.2,165.4 470.4,161.8 470.6,165.7 470.8,162.4 471.1,166.1 471.3,163.6 471.5,161.8 471.7,164.7 472,165.4 472.2,163.7 472.4,165.8 472.6,162.6 472.9,164.2 473.1,163.5 473.3,164.4 473.5,163 473.7,161.3 474,163.7 474.2,165.7 474.4,164.8 474.6,165.2 474.9,165.1 475.1,164.4 475.3,162.9 475.5,164.3 475.8,166.3 476,165.9 476.2,162.8 476.4,164.8 476.6,163.3 476.9,165.8 477.1,162.9 477.3,164.3 477.5,161.1 477.8,165.2 478,163.3 478.2,165.2 478.4,164.8 478.7,162.7 478.9,164.3 479.1,164.5 479.3,161.3 479.6,164.5 479.8,163.4 480,163.2 480.2,161.7 480.4,164.7 480.7,163.7 480.9,164.4 481.1,162.3 481.3,165 481.6,162.2 481.8,164.5 482,162.1 482.2,162.9 482.5,163.1 482.7,165.6 482.9,163.3 483.1,164.6 483.3,163.5 483.6,165.5 483.8,167 484,165.3 484.2,162.5 484.5,165.6 484.7,162.7 484.9,162.7 485.1,163.4 485.4,165.3 485.6,163.6 485.8,164.7 486,162.9 486.2,164.4 486.5,161.7 486.7,164.6 486.9,163 487.1,163.7 487.4,165.4 487.6,164.6 487.8,162.7 488,165.3 488.3,163.5 488.5,165.6 488.7,163.1 488.9,163.5 489.1,162.5 489.4,165.2 489.6,163.1 489.8,161.1 490,163.3 490.3,163.1 490.5,163.1 490.7,164.4 490.9,165 491.2,164.5 491.4,161.3 491.6,164.5 491.8,162"/>
<rect x="108.7" y="6.4" width="397.9" height="315.2" fill="none" stroke="#000" stroke-width="1.4"/>
<line x1="94.4" y1="18.2" x2="108.7" y2="18.2" stroke="#000" stroke-width="1.4"/>
<text transform="translate(76.4 18.2) rotate(-90) scale(1 0.98)" font-size="22.8" text-anchor="middle" >20</text>
<line x1="94.4" y1="91.1" x2="108.7" y2="91.1" stroke="#000" stroke-width="1.4"/>
<text transform="translate(76.4 91.1) rotate(-90) scale(1 0.98)" font-size="22.8" text-anchor="middle" >10</text>
<line x1="94.4" y1="164" x2="108.7" y2="164" stroke="#000" stroke-width="1.4"/>
<text transform="translate(76.4 164) rotate(-90) scale(1 0.98)" font-size="22.8" text-anchor="middle" >0</text>
<line x1="94.4" y1="236.9" x2="108.7" y2="236.9" stroke="#000" stroke-width="1.4"/>
<text transform="translate(76.4 236.9) rotate(-90) scale(1 0.98)" font-size="22.8" text-anchor="middle" >–10</text>
<line x1="94.4" y1="309.8" x2="108.7" y2="309.8" stroke="#000" stroke-width="1.4"/>
<text transform="translate(76.4 309.8) rotate(-90) scale(1 0.98)" font-size="22.8" text-anchor="middle" >–20</text>
<line x1="123.1" y1="321.6" x2="123.1" y2="335.6" stroke="#000" stroke-width="1.4"/>
<text transform="translate(123.1 370.6) scale(1 1.01)" font-size="22.8" text-anchor="middle" >0</text>
<line x1="234.7" y1="321.6" x2="234.7" y2="335.6" stroke="#000" stroke-width="1.4"/>
<text transform="translate(234.7 370.6) scale(1 1.01)" font-size="22.8" text-anchor="middle" >500</text>
<line x1="346.3" y1="321.6" x2="346.3" y2="335.6" stroke="#000" stroke-width="1.4"/>
<text transform="translate(346.3 370.6) scale(1 1.01)" font-size="22.8" text-anchor="middle" >1000</text>
<line x1="457.9" y1="321.6" x2="457.9" y2="335.6" stroke="#000" stroke-width="1.4"/>
<text transform="translate(457.9 370.6) scale(1 1.01)" font-size="22.8" text-anchor="middle" >1500</text>
<text transform="translate(307.7 425) scale(1 1.01)" font-size="22.8" text-anchor="middle" >Time</text>
<text transform="translate(21.4 164) rotate(-90) scale(1 0.98)" font-size="22.8" text-anchor="middle" >X = Acceleration earthquake</text>
<g font-family="'Liberation Serif', 'Times New Roman', serif"><text x="235.3" y="477.4" font-size="32.9">(</text><text x="247" y="478.3" font-size="35.2" font-weight="bold">a</text><text x="264.6" y="477.4" font-size="32.9">)</text></g>
<line x1="622.8" y1="305.6" x2="1021" y2="305.6" stroke="#ccc" stroke-width="0.6"/>
<polyline fill="none" stroke="#000" stroke-width="1.35" stroke-linejoin="round"  points="637.2,306 638.5,304.6 640,305.6 642,306 666,306 668,304.6 670,306 716,306 718,304.8 720,306 723,305 726,306 729,304.9 731,306 733,304.8 735,306 740,306 753.4,306 755.9,304.5 759.3,306 761.5,305.2 764.2,306 767.9,305.2 771.1,304.9 773.3,305.3 777.1,304.5 779.7,306 783.5,303.8 786.2,304.9 788.9,304.7 791.6,303.4 794.8,303.1 796.9,304.2 800.2,306 803.9,305.2 806.1,303.1 807.9,301.3 809.8,303.1 812.2,304.9 815.2,303.4 817.3,303.1 820,301.3 822.7,303.1 825.9,303.8 829.2,301.5 831.1,299.9 832.9,301.3 836.7,298.8 838.8,299.1 841.5,295.6 843.3,294 845.3,288.6 846.9,280 847.8,273.1 849.2,268.5 850,266 851,255 851.4,248 851.8,227.6 852.1,200 852.6,150 853,110 853.8,70 854.5,35 855.3,13.6 855.9,35 856.4,70 856.8,110 857.3,150 857.8,200 858.6,224 859.4,242 860.2,257.6 860.9,270 862,276.4 864.1,288.3 866.3,289.9 870,296.9 872.4,293.1 874.9,302.8 877.6,300.1 880.2,303.8 882.7,300.6 885.6,304.2 888.8,302.2 892.6,304.4 896.4,304.9 899,302.2 902.3,304.9 907.6,303.8 910.9,304.9 913.9,302 915.7,304.9 920.5,303.8 922.7,304.6 926.4,303.5 930.7,306.3 934,304.9 937.2,304.4 940.9,306.3 944.2,304.9 948.4,304.9 950.1,306 953.3,304.9 956.5,306 965,306 967.2,304.6 969.5,306 973,306 975.5,304.8 978,306 982,306 984.3,304.8 986.5,306 991,306 993.2,304.7 995.5,306 1000,306 1002.5,304.7 1004.5,305.9 1006.5,306"/>
<rect x="622.8" y="2.6" width="398.2" height="314.9" fill="none" stroke="#000" stroke-width="1.4"/>
<line x1="643.8" y1="317.5" x2="643.8" y2="331.5" stroke="#000" stroke-width="1.4"/>
<text transform="translate(643.8 366.7) scale(1 1.01)" font-size="22.8" text-anchor="middle" >–20</text>
<line x1="749.4" y1="317.5" x2="749.4" y2="331.5" stroke="#000" stroke-width="1.4"/>
<text transform="translate(749.4 366.7) scale(1 1.01)" font-size="22.8" text-anchor="middle" >–10</text>
<line x1="855" y1="317.5" x2="855" y2="331.5" stroke="#000" stroke-width="1.4"/>
<text transform="translate(855 366.7) scale(1 1.01)" font-size="22.8" text-anchor="middle" >0</text>
<line x1="960.6" y1="317.5" x2="960.6" y2="331.5" stroke="#000" stroke-width="1.4"/>
<text transform="translate(960.6 366.7) scale(1 1.01)" font-size="22.8" text-anchor="middle" >10</text>
<text transform="translate(819.9 420.7) scale(1 1.01)" font-size="22.8" text-anchor="middle" xml:space="preserve">N = 1653 &#160; Bandwidth = 0.06811</text>
<text transform="translate(536 160) rotate(-90) scale(1 0.98)" font-size="22.8" text-anchor="middle" >Density (X)</text>
<g font-family="'Liberation Serif', 'Times New Roman', serif"><text x="748.3" y="477.2" font-size="32.9">(</text><text x="760" y="478.1" font-size="35.2" font-weight="bold">b</text><text x="779.6" y="477.2" font-size="32.9">)</text></g>
<polyline fill="none" stroke="#000" stroke-width="1.45" stroke-linejoin="round"  points="135.8,573.4 136,576.2 136.3,576.7 136.5,576.2 136.8,578.4 137,579.4 137.2,580.5 137.5,579.3 137.7,578.4 137.9,579.6 138.2,581.2 138.4,578.1 138.6,580 138.9,579.5 139.1,579.4 139.3,583.1 139.6,586.7 139.8,590.5 140.1,595.5 140.3,598.9 140.6,602.1 140.8,596.8 141.1,594.6 141.3,587.5 141.5,584.8 141.7,579.9 141.9,576.3 142.2,571.1 142.4,566.2 142.6,566 142.9,563.8 143.1,563.5 143.4,561.8 143.6,560.2 143.8,560.9 144,557.1 144.3,557.5 144.5,555.6 144.7,554.1 144.9,552.2 145.2,551.8 145.4,548.8 145.6,548.8 145.8,549.3 146.1,552.9 146.3,552.6 146.5,557 146.7,557.2 147,559.4 147.2,560.8 147.4,560.8 147.7,561 147.9,560.3 148.2,560.1 148.4,560.2 148.6,562.6 148.8,566.2 149.1,568.7 149.3,571.3 149.5,573 149.8,574.9 150,576.1 150.2,580 150.4,578 150.7,575.5 150.9,571.8 151.2,570.2 151.4,566.8 151.6,568.4 151.8,567.7 152.1,568.9 152.3,568.6 152.5,567.2 152.8,568.7 153,569.1 153.2,569.8 153.4,570 153.6,568.3 153.9,568.3 154.1,567.5 154.3,568 154.6,567.7 154.8,568.1 155,566.8 155.2,569.2 155.5,570.2 155.7,571.9 155.9,573.4 156.2,575 156.4,576.4 156.6,576.6 156.9,571.7 157.1,572.5 157.4,571.7 157.6,571.2 157.9,567.9 158.1,567.9 158.4,567.1 158.6,565 158.8,565 159.1,564 159.3,565.6 159.5,565.2 159.7,567.2 159.9,566.1 160.2,568.8 160.4,567.4 160.6,567.9 160.8,567.3 161.1,567.8 161.3,567.6 161.5,569.2 161.7,570.4 162,569.1 162.2,570.4 162.4,569.8 162.6,573.4 162.9,578.9 163.1,583 163.3,583.6 163.6,578.8 163.8,579.7 164,577 164.2,580.4 164.5,579.9 164.7,582.6 165,585.2 165.2,588.3 165.4,587.2 165.6,583.8 165.9,582 166.1,580.7 166.3,578 166.6,576 166.8,573.5 167,571.6 167.2,573 167.5,571.7 167.7,574.3 168,572.8 168.2,572.8 168.4,574.4 168.7,574.6 168.9,572.8 169.2,575.1 169.4,575.2 169.6,576.8 169.8,580 170.1,584.3 170.3,585.5 170.5,589.4 170.8,591.5 171,596.3 171.2,597.3 171.4,597.8 171.7,597.3 171.9,597.8 172.2,598.5 172.4,599.7 172.7,602.9 172.9,605.8 173.2,609.6 173.5,611.7 173.7,612.2 173.9,612.5 174.2,613 174.4,612.8 174.6,613.5 174.9,614.3 175.1,614.6 175.3,614.1 175.5,614.6 175.8,614.4 176,616.1 176.2,618 176.4,616.4 176.7,619.1 176.9,620.9 177.1,621.3 177.3,622 177.6,622.8 177.8,626.5 178,627.4 178.2,627.1 178.4,629.7 178.7,630.9 178.9,630.9 179.1,628.3 179.4,630 179.6,625.1 179.9,624 180.1,621.6 180.3,620.9 180.6,618 180.8,617.5 181.1,616.8 181.3,614.1 181.5,614 181.8,613.3 182,614.6 182.3,612.1 182.5,613.5 182.7,612.1 183,612.2 183.2,611.8 183.5,611.6 183.7,611.1 183.9,612.9 184.2,614 184.4,616 184.7,618.7 184.9,620.1 185.1,621.1 185.3,621.2 185.6,622.7 185.8,623.7 186,625.3 186.2,626.6 186.5,627.6 186.7,628.5 186.9,623.4 187.2,619.4 187.4,613.6 187.7,607.7 187.9,605.7 188.1,605.6 188.4,604 188.6,604.5 188.9,604.2 189.1,605.7 189.3,603.9 189.6,605.1 189.8,604.3 190.1,603.5 190.3,604.5 190.5,604.1 190.8,606.9 191,607.8 191.3,609.1 191.5,609.3 191.7,616.1 192,619.9 192.2,625 192.4,629.8 192.6,635.1 192.9,639.9 193.1,645.3 193.3,642.4 193.5,642.8 193.8,637.2 194,637 194.2,635 194.4,632.6 194.7,629.5 194.9,628.1 195.1,626.1 195.3,625.2 195.6,624.2 195.8,624.7 196,623.9 196.2,623.4 196.4,624 196.7,622 196.9,622.5 197.1,621.2 197.3,618.5 197.6,617.7 197.8,615.7 198,614.1 198.2,611.3 198.5,609.7 198.7,608.7 198.9,609.1 199.2,611.3 199.4,613 199.7,614.5 199.9,614.7 200.1,613.7 200.3,613.7 200.6,611.7 200.8,610.6 201,611.3 201.2,610.9 201.5,609.6 201.7,610.5 201.9,611.1 202.1,615.5 202.4,616.5 202.6,618 202.8,623.8 203.1,624.1 203.3,626 203.5,628.5 203.7,629.4 203.9,628.4 204.2,630.8 204.4,628.3 204.6,628.8 204.9,630.2 205.1,629.9 205.3,630.9 205.5,632.6 205.8,630.4 206,631.7 206.3,633 206.5,633.8 206.7,634.7 207,634.5 207.2,636.7 207.5,634.8 207.7,635.7 207.9,637.5 208.2,639.8 208.4,640.4 208.7,642.1 208.9,643.7 209.1,645.2 209.4,646.4 209.6,648.6 209.9,649.4 210.1,652.5 210.3,650.3 210.6,646.1 210.8,646.9 211,644.1 211.2,641.1 211.4,637.4 211.7,634.6 211.9,632.7 212.1,633.5 212.4,632.2 212.6,632.3 212.9,630.8 213.1,632.1 213.3,630.1 213.6,630.7 213.8,628.7 214.1,629.4 214.3,629.7 214.6,628.2 214.8,625.5 215.1,623.7 215.3,622.9 215.6,620.4 215.8,622.1 216.1,625.1 216.3,623.6 216.5,628.1 216.7,629.8 216.9,629.8 217.2,631.8 217.4,634.8 217.6,636.1 217.9,635 218.1,636 218.4,637.7 218.6,637.5 218.8,638.8 219.1,638.2 219.3,639.8 219.6,641.1 219.8,640.8 220.1,653.6 220.4,665.9 220.6,665.3 220.9,669.3 221.1,670.2 221.4,670.8 221.6,673.1 221.8,673.5 222.1,669.8 222.3,672.3 222.5,669.2 222.7,670.3 222.9,668.1 223.2,666.1 223.4,666.5 223.7,670.7 224,674.9 224.2,673.3 224.4,671.6 224.7,670.2 224.9,666.5 225.1,665.9 225.4,664.3 225.6,661.5 225.8,659.9 226,658.2 226.3,657.3 226.5,658 226.8,657.2 227,654.9 227.2,653.6 227.5,655.1 227.7,651.7 228,652.4 228.2,651.5 228.4,650.9 228.6,650.2 228.9,652 229.1,651.9 229.3,653.5 229.6,654.4 229.8,652.3 230,652.7 230.2,654.5 230.4,655.4 230.7,654.9 230.9,655.5 231.1,658.6 231.4,657.7 231.6,658.9 231.8,659.9 232,660.6 232.2,661.8 232.5,662.5 232.7,664.7 232.9,666.2 233.2,665.8 233.4,666 233.6,668.3 233.9,665.9 234.2,663.5 234.4,663.9 234.6,666.5 234.9,670 235.1,672.7 235.3,672.8 235.6,673.3 235.8,676.7 236,677.9 236.2,675.7 236.4,676.9 236.7,678.8 236.9,677.9 237.1,675.9 237.4,675.5 237.6,677.6 237.8,676.7 238.1,679.6 238.4,682.7 238.6,682.6 238.8,683.9 239.1,683.5 239.3,682.7 239.5,685.6 239.8,684.8 240,684.9 240.2,686.3 240.4,686.5 240.7,689.4 240.9,689.8 241.2,692.6 241.4,693.2 241.6,695.9 241.9,696 242.1,697.2 242.4,697.4 242.6,700.7 242.8,696.1 243.1,694.1 243.3,692.6 243.6,685.1 243.8,682.7 244,680.3 244.3,680.1 244.5,678.8 244.8,676.3 245,675.5 245.2,674.9 245.4,672.8 245.7,673.4 245.9,673.9 246.1,673.9 246.4,671.7 246.6,671 246.8,670.7 247,672.7 247.3,675 247.5,676.1 247.8,676.7 248,679.1 248.2,680.3 248.4,681.7 248.7,681.1 248.9,681.5 249.1,684 249.4,684.8 249.6,686.2 249.8,686.3 250,686.9 250.2,686.9 250.5,687.7 250.7,687.7 250.9,688.4 251.2,689.3 251.4,690 251.6,691.1 251.8,691 252.1,687.9 252.3,687.9 252.5,686.3 252.7,687.1 252.9,685 253.2,683.4 253.4,682.7 253.6,682.5 253.9,680.9 254.1,679.5 254.4,680.4 254.6,678.8 254.8,678.8 255.1,677.4 255.3,676.2 255.6,674.7 255.8,673.7 256,672.9 256.2,674.7 256.5,674.4 256.7,675.2 256.9,674.8 257.2,674.4 257.4,674.3 257.6,675.5 257.9,675 258.1,674.4 258.4,671.9 258.6,671.5 258.9,671.2 259.1,668.9 259.3,669.4 259.6,671.1 259.8,671.7 260,675 260.3,675.4 260.5,676 260.7,676.2 261,678.8 261.2,680.3 261.4,682.2 261.6,682.1 261.9,683 262.1,685 262.3,684.4 262.6,686.6 262.8,688.1 263,688.7 263.3,699.7 263.6,712.1 263.8,710 264.1,709.7 264.3,708.1 264.6,706.7 264.8,705.8 265.1,704.5 265.3,703.1 265.5,701.5 265.8,700.9 266,701.1 266.2,700.9 266.5,700.4 266.7,697.6 266.9,698.6 267.1,697.5 267.4,696 267.6,695.7 267.8,695.2 268.1,695.2 268.3,692.9 268.5,692.9 268.8,695.3 269,695.6 269.2,696.5 269.4,698.6 269.7,699.3 269.9,699.5 270.2,695.4 270.4,692.8 270.7,689.9 270.9,690.5 271.2,689.5 271.4,692 271.6,691.7 271.9,692.3 272.1,692.9 272.3,694.7 272.5,693.6 272.8,693.7 273,696 273.2,694.5 273.5,694.9 273.7,695.9 273.9,696 274.1,699.5 274.4,700.2 274.6,701.7 274.8,702.8 275.1,703.9 275.3,704.6 275.5,706.7 275.7,703.2 276,701.5 276.2,698.5 276.5,697.1 276.7,692.9 276.9,692.7 277.1,693.5 277.4,693.5 277.6,696.2 277.8,694.4 278.1,696.7 278.3,697.8 278.5,697.1 278.7,698.7 279,701.3 279.2,700.6 279.5,703.9 279.7,704.6 279.9,708 280.2,709.7 280.4,710.8 280.7,714.1 280.9,715.1 281.1,713.4 281.3,710.7 281.6,708.8 281.8,706 282,705.2 282.2,705.3 282.5,700.8 282.7,699.5 282.9,699.7 283.1,698.7 283.4,699.7 283.6,699.3 283.8,698.5 284.1,697 284.3,698 284.5,698.3 284.7,700.7 285,700.7 285.2,702.8 285.5,703.1 285.7,703.2 285.9,706.6 286.2,707.8 286.4,708.3 286.7,709.8 286.9,711.5 287.1,711 287.4,709.5 287.6,709.6 287.9,708.4 288.1,707.9 288.3,706.5 288.6,709.1 288.8,709.4 289,709.8 289.2,711.6 289.4,711.5 289.7,713.1 289.9,714.3 290.1,714.1 290.4,713.3 290.6,714.7 290.8,716.8 291,716.4 291.2,716.6 291.5,717.9 291.7,718.7 291.9,718 292.2,716.8 292.4,716 292.7,713.6 292.9,713 293.1,712 293.4,711.1 293.6,708.2 293.9,708.8 294.1,707.9 294.4,705.7 294.6,707.2 294.9,706.4 295.1,705.6 295.4,703.9 295.6,702.2 295.8,703.2 296.1,705.9 296.3,706.3 296.5,708.4 296.7,708.5 296.9,710.2 297.2,712.6 297.4,713.6 297.6,715.5 297.9,714.3 298.1,716.7 298.4,717.5 298.6,714.2 298.8,715.7 299.1,715.3 299.3,716.3 299.6,716.3 299.8,717.2 300,720.7 300.3,725.2 300.5,728.8 300.8,731.7 301,735.1 301.2,734.5 301.5,734 301.7,733.4 301.9,733.2 302.2,732.1 302.4,731.5 302.6,733.3 302.8,733.1 303.1,736.4 303.3,738.6 303.5,738.6 303.7,738.6 304,742.5 304.2,742.4 304.4,744.1 304.6,740.3 304.9,741.7 305.1,741.3 305.3,740 305.6,739.7 305.8,737.5 306,739.4 306.3,740.4 306.5,739.9 306.7,742.1 307,744.6 307.2,745.9 307.4,743.9 307.7,739.9 307.9,737.7 308.1,736.1 308.3,731.4 308.6,728.8 308.8,728 309,727.7 309.3,728 309.5,727.2 309.8,725.5 310,727.4 310.2,726.3 310.4,724 310.7,724.6 310.9,722.8 311.1,722 311.4,721.2 311.6,719 311.8,718.4 312,720.1 312.2,721.4 312.5,721.7 312.7,723.5 312.9,722.7 313.2,725.1 313.4,725.5 313.6,726.2 313.9,722.9 314.2,721.4 314.4,721.9 314.7,722 314.9,722.5 315.2,723.6 315.4,725 315.6,724.3 315.9,725.3 316.1,724.4 316.4,726.3 316.6,726.8 316.8,727.8 317.1,727.5 317.3,727.2 317.5,726.3 317.8,725.9 318,726.8 318.2,729.8 318.5,731.8 318.8,735.1 319,739.3 319.2,738.8 319.5,735.8 319.7,736.9 320,732.7 320.2,732.7 320.4,734.4 320.6,734.3 320.9,736.9 321.1,737.2 321.3,739.5 321.6,740.7 321.8,741.7 322,743.5 322.2,743 322.5,742.9 322.7,740.1 323,740.4 323.2,738.7 323.4,741.3 323.7,743.7 323.9,748.2 324.2,746.8 324.4,751.3 324.6,748.9 324.9,746.1 325.1,745.6 325.4,743.9 325.6,742.3 325.8,745 326,741.1 326.3,741.7 326.5,740.5 326.7,738.2 326.9,738.3 327.2,738.6 327.4,736.6 327.6,735.7 327.8,736.4 328.1,737.2 328.3,735.9 328.5,737 328.7,738.6 329,739.3 329.2,739.3 329.4,739.7 329.7,741.4 329.9,742.8 330.2,744 330.4,745.3 330.6,746.8 330.8,747.3 331.1,748.2 331.3,747.8 331.5,749 331.7,751.2 332,750.4 332.2,753 332.4,753.7 332.6,751.9 332.8,750.6 333.1,750.7 333.3,748.3 333.5,746.9 333.7,745.9 333.9,745.3 334.2,746.5 334.4,741 334.6,741.7 334.8,741.9 335.1,741.9 335.3,743.2 335.5,742.3 335.7,740.6 335.9,744.2 336.2,742.3 336.4,743.5 336.6,742.5 336.8,740.3 337.1,739.6 337.3,739.1 337.5,739.4 337.8,738.4 338,736.1 338.2,735.7 338.4,738 338.7,739.2 338.9,741.5 339.2,743.5 339.4,745.3 339.6,746.5 339.8,746.1 340.1,747.2 340.3,748.2 340.5,748.7 340.8,748.6 341,751.5 341.2,750.7 341.4,752.8 341.6,756.5 341.9,758.5 342.1,762 342.3,761.5 342.6,767.8 342.8,768.3 343,771.1 343.2,768.7 343.5,768.6 343.7,769.2 344,766.4 344.2,763.5 344.5,762.9 344.7,762.1 344.9,762.4 345.2,759.1 345.4,759.3 345.6,758.3 345.9,759.7 346.1,756.6 346.3,757.2 346.6,754.5 346.8,754.3 347,754.8 347.3,757.6 347.5,758.4 347.8,757.5 348,760.8 348.2,762 348.5,762.1 348.7,763.9 348.9,761.9 349.2,759.7 349.4,756.8 349.6,754.5 349.9,752.3 350.1,750.7 350.3,749.6 350.6,747.9 350.8,748.2 351.1,746.1 351.3,746.7 351.6,745.8 351.8,744.1 352.1,745 352.3,743.5 352.5,745.7 352.8,745.7 353,743.7 353.2,746.6 353.5,746.2 353.7,746.5 353.9,748.7 354.2,750.5 354.4,753.3 354.7,756.8 354.9,757.9 355.1,762.4 355.4,765.5 355.6,769.3 355.9,773.5 356.1,778.4 356.4,781.9 356.6,780.9 356.9,775.6 357.1,773.9 357.3,770.9 357.6,767.9 357.8,766.2 358,763.7 358.3,759.3 358.5,757.9 358.7,755.9 358.9,756.8 359.2,755 359.4,754.1 359.6,752.2 359.9,751.2 360.1,750.9 360.3,749.5 360.5,749.6 360.8,749.7 361,751.3 361.2,752.7 361.4,751.5 361.7,754 361.9,754.3 362.1,754.3 362.3,755.4 362.6,758.1 362.8,760 363,762.6 363.3,764.5 363.5,764.7 363.7,766.6 364,770.7 364.2,771.7 364.5,770 364.7,768.4 365,766.6 365.2,765.8 365.5,762.7 365.7,764 366,768.4 366.2,769.1 366.5,772.9 366.7,774.7 366.9,774.3 367.2,770.4 367.4,770.4 367.7,768.3 367.9,766.7 368.2,765.5 368.4,763.9 368.6,764.3 368.9,765.7 369.1,768.5 369.3,770 369.6,770 369.8,770.6 370,775.3 370.3,775.5 370.5,775.9 370.7,776.8 370.9,776.2 371.2,777.2 371.4,778.5 371.6,778 371.9,780.9 372.1,780.2 372.3,780.7 372.5,783.7 372.8,785 373,787.8 373.3,790.5 373.5,793.9 373.7,791.2 374,787.9 374.2,785 374.5,782.6 374.7,779.5 374.9,778.2 375.2,777.9 375.4,775 375.7,772.8 375.9,772.3 376.1,772.1 376.4,768.9 376.6,768 376.9,766.2 377.1,765.1 377.3,765 377.6,764.5 377.8,763.1 378,763.2 378.3,763.8 378.5,763.5 378.7,763 378.9,762.5 379.2,761 379.4,760.6 379.6,761.3 379.9,759 380.1,759.7 380.3,760.3 380.6,759.4 380.8,761.4 381,761.7 381.2,762 381.4,764.2 381.7,763.7 381.9,765.1 382.1,766.1 382.3,767.5 382.6,768.5 382.8,771.7 383,771.4 383.2,773.3 383.5,773.4 383.7,775.9 383.9,779.7 384.2,784 384.4,788.2 384.7,792.2 384.9,796.9 385.1,795.3 385.3,794.8 385.6,791.6 385.8,789.8 386,787.9 386.2,788.8 386.5,786.2 386.7,783.1 386.9,782.9 387.2,782.4 387.4,780.5 387.6,780.4 387.9,780 388.1,779.3 388.3,777.8 388.5,777.2 388.8,777.7 389,776.9 389.2,774.1 389.5,775.4 389.7,774.7 389.9,776.1 390.1,774.8 390.4,775.9 390.6,776 390.8,775.9 391.1,779.1 391.3,778.6 391.6,779.7 391.8,782 392,783.4 392.3,787.4 392.5,786.4 392.8,787.5 393,790.3 393.2,793.3 393.5,795.8 393.7,799.7 393.9,799.8 394.1,802.2 394.4,805.9 394.6,808.9 394.9,806.2 395.1,803.2 395.4,799.9 395.6,801.1 395.8,799 396.1,799.8 396.3,800.7 396.5,801.7 396.8,801.6 397,801.1 397.2,801.7 397.4,799.3 397.7,799.6 397.9,798.2 398.2,798.3 398.4,794.5 398.6,796.4 398.9,800.1 399.1,799.7 399.4,802.9 399.6,800.7 399.9,798.9 400.1,797.4 400.3,795.3 400.6,793.9 400.8,792.7 401,793.5 401.2,793.9 401.5,795.7 401.7,795.9 401.9,796.8 402.2,798.9 402.4,798.7 402.6,799.3 402.9,797.2 403.1,794.9 403.4,792.8 403.6,791 403.9,787.6 404.1,786.2 404.4,787.7 404.6,788.5 404.9,788.6 405.1,787.7 405.4,787.2 405.6,789.1 405.8,786.8 406.1,785.4 406.3,784.1 406.6,781.3 406.8,779.6 407,779 407.3,780.3 407.5,778.1 407.8,779.3 408,778.9 408.2,776.6 408.5,777.7 408.7,776.7 409,776 409.2,776.6 409.4,775.2 409.6,775.6 409.9,777.6 410.1,777.1 410.3,777.9 410.6,777 410.8,777.9 411,778.4 411.3,781.4 411.6,785 411.8,784.7 412.1,785.6 412.3,788.5 412.6,789.3 412.8,790.3 413,791.2 413.2,793.6 413.5,796 413.7,798.8 413.9,798.1 414.2,801.2 414.4,804.2 414.6,804.1 414.8,803.5 415.1,804 415.3,799.8 415.5,802.7 415.7,800.7 415.9,798.4 416.2,800 416.4,798.7 416.6,798.8 416.8,798.1 417.1,797.3 417.3,795.3 417.5,793.9 417.8,793.3 418,792.9 418.2,792.1 418.4,792.8 418.7,792.5 418.9,793.4 419.1,794.5 419.4,794.4 419.6,796.6 419.8,796.9 420,794.4 420.3,795.3 420.5,795.1 420.7,795.6 421,797.5 421.2,797.5 421.4,797.3 421.7,798 421.9,799.4 422.2,801.1 422.4,801.1 422.6,800.2 422.8,799.6 423.1,800.1 423.3,799.1 423.5,798.5 423.7,798.3 424,796 424.2,796.5 424.4,795.7 424.6,796.6 424.9,799.5 425.1,800.8 425.3,800.6 425.5,804.1 425.8,803.4 426,805.9 426.2,806.4 426.5,805 426.7,803.5 427,802.7 427.2,802.9 427.4,802.6 427.7,801.5 427.9,802.1 428.2,799.8 428.4,800.5 428.6,800.8 428.9,801.2 429.1,799.9 429.4,802.2 429.6,802.3 429.8,801.9 430.1,801.6 430.3,804 430.5,805.1 430.7,806.8 430.9,806.3 431.2,808.8 431.4,808.3 431.6,811 431.9,812.2 432.1,813.9 432.4,814.6 432.6,815.3 432.9,817.3 433.1,816.4 433.4,815.3 433.6,813.3 433.9,811.5 434.1,808.9 434.4,808.9 434.6,809.8 434.8,809.9 435.1,808.8 435.3,810.5 435.5,811.4 435.8,811 436,812.2 436.2,811.9 436.4,810.4 436.7,806.2 436.9,805.1 437.2,803.7 437.4,801.1 437.6,801.1 437.9,800.8 438.1,797.1 438.4,797.9 438.6,797.9 438.9,797.5 439.1,795.7 439.4,796.7 439.6,793.8 439.9,793.8 440.1,792.7 440.4,793.9 440.6,792.7 440.8,792.4 441.1,795.6 441.3,796.3 441.5,796.8 441.8,795.4 442,797.7 442.2,799.9 442.5,798.9 442.7,801.1 442.9,803.3 443.2,805.8 443.4,809.1 443.7,810.9 443.9,813.1 444.1,814.1 444.3,814.3 444.6,815.6 444.8,816.3 445,817.8 445.2,817.9 445.5,819.8 445.7,819.7 445.9,817.5 446.1,819.4 446.4,817.5 446.6,818 446.8,816.4 447.1,816.4 447.3,816.3 447.5,814.3 447.7,812.8 448,812.4 448.2,811.2 448.5,810.6 448.7,809.5 448.9,807.6 449.1,808.4 449.4,807.9 449.6,807 449.8,807 450.1,805.4 450.3,807.6 450.5,805.9 450.7,806.7 450.9,808.4 451.2,806.4 451.4,806.6 451.6,808.4 451.9,807.1 452.1,809.2 452.3,809.5 452.5,810.6 452.8,812.8 453,815.1 453.3,816.7 453.5,820.1 453.7,820.8 454,820.9 454.2,824.7 454.5,824.5 454.7,827.5 454.9,825.7 455.2,822.8 455.4,821.3 455.7,821.4 455.9,818 456.1,816.1 456.4,814.4 456.6,812.8 456.9,812.5 457.1,809.5 457.3,807.4 457.6,806.4 457.8,807 458.1,804 458.3,804.1 458.6,804.5 458.8,802.5 459.1,801 459.3,800.5 459.5,800.6 459.8,801.2 460,802.3 460.2,803.8 460.5,805.6 460.7,805.3 460.9,808.1 461.2,808.7 461.4,810.6 461.7,813.8 461.9,813.5 462.1,816.7 462.4,818.8 462.6,820.1 462.9,822.2 463.1,825.1 463.3,823.6 463.6,820 463.8,818.8 464,817.3 464.2,816.1 464.4,813 464.7,813.4 464.9,810.7 465.1,809.7 465.3,809.1 465.6,808.3 465.8,807.4 466,806.4 466.2,807.6 466.5,806.1 466.7,805.3 466.9,805.5 467.1,806.9 467.4,805.7 467.6,807.3 467.8,807.1 468.1,806.7 468.3,808.5 468.5,808.3 468.7,809.1 469,813.3 469.2,814.1 469.4,817.5 469.6,820.6 469.9,822.1 470.1,823.9 470.3,822.1 470.6,821.4 470.8,819.9 471,818 471.3,816.9 471.5,816.7 471.7,817.3 471.9,818.3 472.2,816.9 472.4,819 472.6,820.1 472.9,820.3 473.1,819.9 473.3,821.5 473.5,822.6 473.8,821 474,822.9 474.3,824 474.5,821.1 474.7,823.5 475,823.8 475.2,824 475.5,823.4 475.7,824.5 475.9,822.6 476.2,820.2 476.4,820 476.7,818.9 476.9,816.3 477.1,814.6 477.4,813.5 477.6,812.4 477.9,811 478.1,809.5 478.3,809.4 478.6,809.6 478.8,808.5 479,807.3 479.2,810.4 479.5,811.2 479.7,810.1 479.9,811.3 480.2,814.4 480.4,817.8 480.6,820.9 480.9,823.1 481.1,825.1 481.3,825.1 481.6,822.9 481.8,822.2 482,821.2 482.2,819.4 482.4,819.8 482.7,818.2 482.9,816.7 483.1,816.4 483.3,814 483.6,814.1 483.8,811.2 484,811.3 484.2,807.6 484.5,807.8 484.7,807.7 484.9,808.4 485.1,807.5 485.4,808.2 485.6,806.8 485.8,809.7 486.1,809 486.3,808.6 486.5,808.9 486.7,811.2 487,813.2 487.2,816.2 487.5,817.2 487.7,819.1 488,820.3 488.2,824 488.5,826.9"/>
<rect x="121.9" y="537.4" width="380.4" height="301.3" fill="none" stroke="#000" stroke-width="1.45"/>
<line x1="108.4" y1="566.3" x2="121.9" y2="566.3" stroke="#000" stroke-width="1.45"/>
<text transform="translate(90.8 566.3) rotate(-90) scale(1 0.98)" font-size="21.7" text-anchor="middle" >100</text>
<line x1="108.4" y1="629.9" x2="121.9" y2="629.9" stroke="#000" stroke-width="1.45"/>
<text transform="translate(90.8 629.9) rotate(-90) scale(1 0.98)" font-size="21.7" text-anchor="middle" >10</text>
<line x1="108.4" y1="693.4" x2="121.9" y2="693.4" stroke="#000" stroke-width="1.45"/>
<text transform="translate(90.8 693.4) rotate(-90) scale(1 0.98)" font-size="21.7" text-anchor="middle" >1</text>
<line x1="135.8" y1="838.7" x2="135.8" y2="851.3" stroke="#000" stroke-width="1.45"/>
<text transform="translate(135.8 885.6) scale(1 1.01)" font-size="21.7" text-anchor="middle" >0</text>
<line x1="243.7" y1="838.7" x2="243.7" y2="851.3" stroke="#000" stroke-width="1.45"/>
<text transform="translate(243.7 885.6) scale(1 1.01)" font-size="21.7" text-anchor="middle" >500</text>
<line x1="351.6" y1="838.7" x2="351.6" y2="851.3" stroke="#000" stroke-width="1.45"/>
<text transform="translate(351.6 885.6) scale(1 1.01)" font-size="21.7" text-anchor="middle" >1000</text>
<line x1="459.5" y1="838.7" x2="459.5" y2="851.3" stroke="#000" stroke-width="1.45"/>
<text transform="translate(459.5 885.6) scale(1 1.01)" font-size="21.7" text-anchor="middle" >1500</text>
<text transform="translate(311.6 937.4) scale(1 1.01)" font-size="21.7" text-anchor="middle" >Time</text>
<text transform="translate(38.8 688) rotate(-90) scale(1 0.98)" font-size="21.7" text-anchor="middle" >Var (diff(X))</text>
<g font-family="'Liberation Serif', 'Times New Roman', serif"><text x="242.8" y="989.5" font-size="32.9">(</text><text x="254.5" y="990.4" font-size="35.2" font-weight="bold">c</text><text x="270.2" y="989.5" font-size="32.9">)</text></g>
<polyline fill="none" stroke="#000" stroke-width="1.3" stroke-linejoin="round"  points="627.2,555.4 627.4,565.2 627.7,583.5 627.9,566.8 628.1,584.8 628.4,585.1 628.6,600.9 628.8,623.3 629.1,577.1 629.3,592.3 629.6,551.5 629.8,547.1 630,583.7 630.3,575.1 630.5,585.1 630.7,581.6 631,584.5 631.2,593.5 631.4,589.4 631.7,552.3 631.9,574 632.1,550.8 632.4,572.4 632.6,597.5 632.8,606.4 633.1,581.8 633.3,590.7 633.5,558.1 633.8,575.6 634,584.3 634.2,564.4 634.5,566.5 634.7,545.5 635,588 635.2,565 635.4,561.6 635.7,567.2 635.9,586 636.1,605.6 636.4,558.7 636.6,585.1 636.8,583.1 637.1,576.4 637.3,620 637.5,586.5 637.8,588.9 638,562.1 638.2,614.3 638.5,559.3 638.7,576.7 639,658 639.2,601.8 639.4,591.6 639.7,561.1 639.9,573.3 640.1,658.7 640.4,597.2 640.6,556.2 640.8,632.9 641.1,646.5 641.3,588.8 641.5,591.5 641.8,568.1 642,593.7 642.2,611.1 642.5,604.2 642.7,559.9 642.9,603.7 643.2,571.8 643.4,584.3 643.7,598.9 643.9,567.2 644.1,574.5 644.4,576.5 644.6,629.1 644.8,614.9 645.1,586.7 645.3,578.4 645.5,583.6 645.8,592.3 646,563.6 646.2,567.2 646.5,578.8 646.7,566.1 646.9,558.4 647.2,599.7 647.4,584.5 647.6,573.8 647.9,573 648.1,563.6 648.4,590.1 648.6,601.1 648.8,571.4 649.1,576.6 649.3,583.1 649.5,577.9 649.8,582.9 650,591.8 650.2,565.2 650.5,578 650.7,589.6 650.9,565.8 651.2,593.4 651.4,564.2 651.6,571.6 651.9,584.3 652.1,564.7 652.3,595.2 652.6,576.2 652.8,567.1 653.1,638.6 653.3,596.4 653.5,580.9 653.8,598.3 654,630.7 654.2,611.6 654.5,568.6 654.7,580 654.9,577.1 655.2,565.7 655.4,613.8 655.6,571.5 655.9,566.6 656.1,593.7 656.3,579.9 656.6,583.6 656.8,584.3 657,606.8 657.3,601.5 657.5,612.3 657.8,579 658,586.3 658.2,573.5 658.5,591.4 658.7,578.5 658.9,556.5 659.2,628.5 659.4,564 659.6,586.2 659.9,573.2 660.1,591.2 660.3,591.3 660.6,614.1 660.8,646.4 661,586.9 661.3,633.9 661.5,581 661.7,573.9 662,593.5 662.2,689.4 662.5,597.7 662.7,581.7 662.9,584.6 663.2,579 663.4,587.7 663.6,553.7 663.9,577.1 664.1,590 664.3,589.5 664.6,633.8 664.8,598.8 665,618.3 665.3,588 665.5,570.8 665.7,590.6 666,626.7 666.2,598.4 666.4,601.9 666.7,587.9 666.9,594.4 667.2,593.6 667.4,594.5 667.6,599.2 667.9,597.5 668.1,609.6 668.3,590.9 668.6,598.7 668.8,640.8 669,646.4 669.3,598.4 669.5,580.7 669.7,576.8 670,601.3 670.2,613.4 670.4,592.1 670.7,612.1 670.9,578.8 671.1,591 671.4,593.4 671.6,590.3 671.9,598.2 672.1,610.5 672.3,615.4 672.6,584.3 672.8,750.9 673,593 673.3,594.4 673.5,603 673.7,581.7 674,592.6 674.2,576.7 674.4,607.8 674.7,605.8 674.9,607.7 675.1,591.8 675.4,601.1 675.6,606.4 675.8,598.2 676.1,583.4 676.3,586 676.6,592.7 676.8,670.4 677,662.4 677.3,597.2 677.5,593 677.7,592.9 678,581.4 678.2,605.5 678.4,581.5 678.7,610.4 678.9,610.3 679.1,685.3 679.4,628.6 679.6,611 679.8,586 680.1,596.5 680.3,600.4 680.5,601 680.8,592.5 681,614 681.2,646.8 681.5,619.9 681.7,677.9 682,612 682.2,609.8 682.4,589.5 682.7,594.8 682.9,607.2 683.1,614.4 683.4,589.6 683.6,652.2 683.8,596.5 684.1,589.8 684.3,621.9 684.5,665.4 684.8,592.7 685,622.4 685.2,591.2 685.5,593.7 685.7,607.6 686,608.9 686.2,588.4 686.4,589.4 686.7,618.9 686.9,606.6 687.1,588.5 687.4,597.4 687.6,593.9 687.8,593.7 688.1,610.8 688.3,622.8 688.5,666.8 688.8,597 689,595.7 689.2,590.4 689.5,690.2 689.7,595.5 689.9,622.4 690.2,568.5 690.4,623.8 690.7,623.8 690.9,589.6 691.1,585.9 691.4,620.6 691.6,599.5 691.8,592.4 692.1,631.1 692.3,602.5 692.5,609.8 692.8,624.3 693,610.3 693.2,602.2 693.5,663.3 693.7,584.6 693.9,615.2 694.2,610.3 694.4,595 694.6,601.1 694.9,584 695.1,617.8 695.4,667 695.6,605.4 695.8,600.3 696.1,604.4 696.3,595.1 696.5,578.5 696.8,598.1 697,608.1 697.2,609.5 697.5,597.6 697.7,589.8 697.9,576.8 698.2,642.1 698.4,601.5 698.6,600.3 698.9,602.3 699.1,597.5 699.3,631.8 699.6,617.3 699.8,602.3 700.1,649.8 700.3,599.4 700.5,603.1 700.8,605.9 701,608 701.2,587 701.5,614.5 701.7,629.5 701.9,600 702.2,593.6 702.4,586.7 702.6,613.4 702.9,599.5 703.1,597.1 703.3,624.4 703.6,584.7 703.8,619.6 704,682.7 704.3,602.8 704.5,622.1 704.8,583.1 705,690.4 705.2,588.5 705.5,603.1 705.7,610.6 705.9,620.1 706.2,605.5 706.4,590.9 706.6,619.5 706.9,617.9 707.1,574.8 707.3,608.5 707.6,607.8 707.8,634.7 708,605.1 708.3,594.9 708.5,579.2 708.7,591.1 709,602.4 709.2,595.6 709.5,661 709.7,592.8 709.9,594.5 710.2,620.7 710.4,585.8 710.6,600.1 710.9,596.5 711.1,653.3 711.3,599.3 711.6,619.8 711.8,610.5 712,625.9 712.3,603.8 712.5,590.6 712.7,620.4 713,650.3 713.2,611.2 713.4,577.1 713.7,601.3 713.9,608.5 714.2,584.4 714.4,592.9 714.6,609.3 714.9,598.4 715.1,602.7 715.3,598.9 715.6,648.1 715.8,597.4 716,610.4 716.3,603.6 716.5,595.6 716.7,621.8 717,612.3 717.2,594.6 717.4,619.6 717.7,642 717.9,594.6 718.1,597.5 718.4,601.5 718.6,612.4 718.9,623.1 719.1,622.7 719.3,598.5 719.6,605.8 719.8,596.8 720,607.9 720.3,672.2 720.5,591.8 720.7,593.7 721,594.1 721.2,598.7 721.4,617.7 721.7,601.4 721.9,691 722.1,604.7 722.4,604.9 722.6,611.9 722.8,593.3 723.1,616.2 723.3,604.1 723.6,620.3 723.8,618.8 724,595.4 724.3,621.1 724.5,644.2 724.7,617.6 725,616.6 725.2,622.3 725.4,597 725.7,628.8 725.9,617.1 726.1,611.4 726.4,616.8 726.6,608.6 726.8,652.5 727.1,612.4 727.3,613.7 727.5,653.6 727.8,607.9 728,590.5 728.2,628 728.5,627.1 728.7,646.4 729,626.2 729.2,629.4 729.4,605.9 729.7,615.8 729.9,614.4 730.1,624.2 730.4,639.6 730.6,592 730.8,612.2 731.1,628.7 731.3,591 731.5,619.8 731.8,620.6 732,613.2 732.2,633.5 732.5,709.9 732.7,615.7 733,629.4 733.2,651.4 733.4,616.6 733.7,622 733.9,648.5 734.1,635.1 734.4,617.6 734.6,598.9 734.8,644.5 735.1,622.6 735.3,630.3 735.5,665.2 735.8,619 736,709.3 736.2,626.2 736.5,605 736.7,604.8 736.9,617.8 737.2,605.7 737.4,611.7 737.7,617.2 737.9,638.1 738.1,617.3 738.4,620.5 738.6,616.1 738.8,634.7 739.1,614.4 739.3,607.3 739.5,622.7 739.8,629.1 740,613 740.2,604.7 740.5,626.9 740.7,601 740.9,590.1 741.2,616 741.4,752.4 741.6,609.2 741.9,618.3 742.1,607.3 742.4,595.6 742.6,617.1 742.8,639.8 743.1,616.5 743.3,618.8 743.5,647.9 743.8,607.2 744,614.8 744.2,618.8 744.5,623.2 744.7,617.4 744.9,707.9 745.2,600.9 745.4,609.1 745.6,610.8 745.9,635.9 746.1,609.3 746.3,663.2 746.6,630 746.8,614.5 747.1,645.6 747.3,631.5 747.5,654.3 747.8,615.3 748,614.7 748.2,617.5 748.5,625.3 748.7,595.6 748.9,604.4 749.2,641.5 749.4,633.7 749.6,612.8 749.9,649.4 750.1,606.5 750.3,599.6 750.6,593.8 750.8,630.4 751,617.5 751.3,614.9 751.5,615.4 751.8,628.8 752,649.5 752.2,606.8 752.5,624.8 752.7,600 752.9,620.6 753.2,651 753.4,632 753.6,618.9 753.9,626.4 754.1,600.9 754.3,621 754.6,606 754.8,641.2 755,640 755.3,608 755.5,657 755.7,611.5 756,632 756.2,623.7 756.5,616.4 756.7,650.1 756.9,640.9 757.2,644.7 757.4,649.3 757.6,606.5 757.9,650 758.1,660.8 758.3,605.8 758.6,631.3 758.8,616.7 759,627.2 759.3,611.7 759.5,685 759.7,612 760,633.7 760.2,616.3 760.4,649.2 760.7,615.4 760.9,605.4 761.2,626.5 761.4,608.6 761.6,666.4 761.9,627.9 762.1,651.1 762.3,607.5 762.6,657.5 762.8,614.1 763,637.2 763.3,598.7 763.5,672.8 763.7,631 764,607.7 764.2,628.5 764.4,633 764.7,626.6 764.9,607.7 765.1,614.4 765.4,671.9 765.6,633.9 765.9,656.4 766.1,611.5 766.3,619.7 766.6,637.6 766.8,614.3 767,636.7 767.3,682.7 767.5,617.7 767.7,629.4 768,682.8 768.2,625.2 768.4,612.6 768.7,602.2 768.9,625.2 769.1,653.7 769.4,628.1 769.6,598.5 769.8,622.8 770.1,611.6 770.3,635.2 770.6,612.3 770.8,629.6 771,679.1 771.3,716 771.5,640.6 771.7,622.9 772,631.8 772.2,636.4 772.4,638 772.7,628.2 772.9,637.3 773.1,623.4 773.4,636.7 773.6,635.2 773.8,633.5 774.1,641.7 774.3,624.3 774.5,643.6 774.8,621.2 775,651.8 775.2,622.1 775.5,653.4 775.7,642 776,639.8 776.2,626.5 776.4,652.8 776.7,657.9 776.9,624.7 777.1,619.4 777.4,618.8 777.6,617.6 777.8,706 778.1,653.8 778.3,626.8 778.5,667.5 778.8,662.1 779,623.5 779.2,632.4 779.5,636.4 779.7,634.6 780,644.2 780.2,676.3 780.4,626.7 780.7,632.1 780.9,615.8 781.1,647.8 781.4,615.4 781.6,638.4 781.8,635 782.1,647.1 782.3,625.6 782.5,649.9 782.8,643.3 783,647.1 783.2,620.9 783.5,615 783.7,623.3 783.9,617.3 784.2,639.1 784.4,634.3 784.7,674.3 784.9,634.2 785.1,625.4 785.4,665.2 785.6,661.4 785.8,622.5 786.1,635.2 786.3,613.1 786.5,618 786.8,724 787,609.3 787.2,639.1 787.5,628.7 787.7,657.6 787.9,623.4 788.2,612.3 788.4,620.4 788.6,626.7 788.9,641.6 789.1,655.4 789.4,672.8 789.6,620.3 789.8,623.5 790.1,662.5 790.3,652.4 790.5,624.4 790.8,722.9 791,628.7 791.2,664.8 791.5,629.3 791.7,622.3 791.9,635.4 792.2,631.7 792.4,633.2 792.6,633.7 792.9,607 793.1,632.4 793.3,645.8 793.6,654.5 793.8,649.1 794.1,624.4 794.3,701.4 794.5,633.2 794.8,639.5 795,634.2 795.2,613 795.5,653 795.7,640.3 795.9,654.3 796.2,620.5 796.4,636.9 796.6,631.8 796.9,638 797.1,625.3 797.3,617.3 797.6,637.7 797.8,639.1 798,709.1 798.3,619.4 798.5,647.6 798.8,640.6 799,624 799.2,683.6 799.5,641.6 799.7,632.6 799.9,643.6 800.2,643.7 800.4,678.2 800.6,658 800.9,623.5 801.1,649 801.3,626.7 801.6,632.7 801.8,632.6 802,637 802.3,645.7 802.5,624.9 802.7,655.8 803,646.4 803.2,662.8 803.5,635.7 803.7,688.3 803.9,680.4 804.2,640.3 804.4,633.8 804.6,654.7 804.9,633.3 805.1,676.2 805.3,614 805.6,712.9 805.8,629.9 806,661.8 806.3,642.9 806.5,651 806.7,669 807,630.7 807.2,635.3 807.4,656.2 807.7,662.1 807.9,608.3 808.2,628 808.4,645.6 808.6,634.6 808.9,647 809.1,644.3 809.3,636.9 809.6,664.8 809.8,637.8 810,653.1 810.3,637.3 810.5,824.4 810.7,644.3 811,641 811.2,630.9 811.4,653.8 811.7,667.5 811.9,632.8 812.1,646.2 812.4,643 812.6,631.5 812.9,648 813.1,698.3 813.3,643.1 813.6,645.4 813.8,626.2 814,645.1 814.3,653.1 814.5,626.6 814.7,632.9 815,684.2 815.2,633.9 815.4,645.1 815.7,632 815.9,623.2 816.1,645.9 816.4,653.8 816.6,649.8 816.8,656.8 817.1,649.5 817.3,623.9 817.6,628.5 817.8,667.7 818,692.8 818.3,680.4 818.5,619 818.7,628.1 819,697.8 819.2,733.3 819.4,619.6 819.7,629.1 819.9,631.2 820.1,628.8 820.4,638.8 820.6,638.4 820.8,657.2 821.1,625.6 821.3,645.2 821.5,661.9 821.8,650.4 822,707.8 822.2,644.5 822.5,632.6 822.7,678.1 823,624.1 823.2,619.9 823.4,637.2 823.7,678.4 823.9,654.4 824.1,658.1 824.4,674 824.6,673.3 824.8,651.6 825.1,652.4 825.3,642.3 825.5,655 825.8,629.5 826,634.7 826.2,626.8 826.5,651.1 826.7,620.1 827,658.7 827.2,636.9 827.4,606.8 827.7,661.3 827.9,653.4 828.1,626.9 828.4,626.4 828.6,656 828.8,639.8 829.1,642.4 829.3,652.8 829.5,646.1 829.8,660 830,658.2 830.2,659.1 830.5,655.9 830.7,649.1 830.9,647 831.2,623.9 831.4,639.5 831.7,628.6 831.9,640.3 832.1,632.4 832.4,647.9 832.6,643.5 832.8,652 833.1,651.5 833.3,648.6 833.5,649.3 833.8,636.7 834,677 834.2,627.2 834.5,649.5 834.7,625 834.9,651.9 835.2,631.8 835.4,665.6 835.6,670.1 835.9,684 836.1,648 836.4,675.2 836.6,641.8 836.8,638.6 837.1,671.9 837.3,677.8 837.5,639.2 837.8,630.4 838,636 838.2,634.3 838.5,656.2 838.7,645.5 838.9,634.4 839.2,646.2 839.4,669.9 839.6,649.3 839.9,646.4 840.1,661.8 840.3,741.8 840.6,659.3 840.8,662.8 841.1,633.8 841.3,650.6 841.5,660.8 841.8,658 842,642.4 842.2,635.6 842.5,653.3 842.7,635.4 842.9,664.5 843.2,669.8 843.4,637.1 843.6,664.4 843.9,688.9 844.1,663.8 844.3,634.2 844.6,716.8 844.8,642.5 845,632.7 845.3,635.2 845.5,707.2 845.8,649.5 846,656 846.2,652.3 846.5,633.6 846.7,672.3 846.9,657.1 847.2,631.7 847.4,699 847.6,657 847.9,650.8 848.1,678.2 848.3,654.4 848.6,674.6 848.8,645.1 849,667 849.3,640.8 849.5,636.4 849.7,639.6 850,674 850.2,645.4 850.5,665.2 850.7,675.4 850.9,637.5 851.2,645.1 851.4,636.5 851.6,687.7 851.9,648 852.1,631.7 852.3,635.9 852.6,701 852.8,651.7 853,662.8 853.3,640.7 853.5,659.9 853.7,652.9 854,663.5 854.2,656.9 854.4,666.7 854.7,641.7 854.9,636.7 855.2,649.6 855.4,634.3 855.6,677.3 855.9,655.2 856.1,645.1 856.3,623.5 856.6,678.5 856.8,653.2 857,700.7 857.3,658.8 857.5,652.5 857.7,643.6 858,681.3 858.2,702.3 858.4,645.4 858.7,685.8 858.9,643.1 859.1,655.5 859.4,653.5 859.6,637.9 859.9,744.3 860.1,659.2 860.3,699.5 860.6,643.5 860.8,649.5 861,640.6 861.3,643.9 861.5,725.4 861.7,645.3 862,646 862.2,678.3 862.4,653.2 862.7,687.7 862.9,650.1 863.1,664 863.4,680.1 863.6,709.3 863.8,685.3 864.1,658.5 864.3,645.7 864.6,653 864.8,659.1 865,698.2 865.3,640.5 865.5,672.7 865.7,646.6 866,653.3 866.2,635.9 866.4,661.6 866.7,648 866.9,680.7 867.1,649.2 867.4,697.3 867.6,653.2 867.8,688.3 868.1,644 868.3,684.3 868.5,662.5 868.8,657.3 869,664.2 869.2,649.6 869.5,677.3 869.7,642.1 870,666.2 870.2,651.8 870.4,641.3 870.7,684 870.9,680.8 871.1,666.5 871.4,647.9 871.6,659.4 871.8,650 872.1,666.8 872.3,642.4 872.5,706.7 872.8,645.2 873,660.4 873.2,693.3 873.5,651.8 873.7,651.1 874,666 874.2,631.1 874.4,647.5 874.7,641.2 874.9,656.8 875.1,636.2 875.4,642.1 875.6,720.7 875.8,650.1 876.1,658.9 876.3,643.3 876.5,648.8 876.8,662.5 877,673.2 877.2,661.5 877.5,647.5 877.7,722.7 877.9,661.1 878.2,667.1 878.4,646.4 878.7,646 878.9,655.7 879.1,671.4 879.4,700.8 879.6,654.4 879.8,646.9 880.1,666.5 880.3,654.3 880.5,748.1 880.8,668.6 881,665.9 881.2,670.4 881.5,667.2 881.7,644.1 881.9,661.2 882.2,650.6 882.4,648.7 882.6,657 882.9,662.7 883.1,660 883.4,642.3 883.6,624.8 883.8,661.9 884.1,689.5 884.3,656.9 884.5,637.1 884.8,678.3 885,628.4 885.2,659.1 885.5,660.2 885.7,674.9 885.9,652 886.2,682.8 886.4,684.4 886.6,681.3 886.9,649.2 887.1,687.4 887.3,668.4 887.6,648.6 887.8,676.3 888,658.1 888.3,681.2 888.5,666.3 888.8,648.9 889,677.1 889.2,670.8 889.5,694.3 889.7,682.8 889.9,671.4 890.2,638 890.4,644.6 890.6,652.2 890.9,652.9 891.1,665.6 891.3,642.8 891.6,666.9 891.8,649.3 892,678.7 892.3,668.7 892.5,656 892.8,682.4 893,675.3 893.2,680.7 893.5,646.3 893.7,643.6 893.9,649.3 894.2,652.3 894.4,650.1 894.6,649.6 894.9,727.1 895.1,672.8 895.3,665.9 895.6,678.5 895.8,665.7 896,664.6 896.3,666.3 896.5,678.9 896.7,672.4 897,676.5 897.2,659.2 897.5,681.9 897.7,654.2 897.9,660.2 898.2,694.8 898.4,641.9 898.6,653.1 898.9,669.3 899.1,657.6 899.3,694.9 899.6,644.2 899.8,671.8 900,696.4 900.3,657.7 900.5,644.5 900.7,659.7 901,677.8 901.2,646.1 901.4,662.1 901.7,671.9 901.9,661.2 902.2,702.8 902.4,657.1 902.6,693.7 902.9,647.9 903.1,737.9 903.3,689.5 903.6,669.3 903.8,648.6 904,665.5 904.3,657.3 904.5,650.8 904.7,659.6 905,657.2 905.2,690 905.4,668.3 905.7,740.5 905.9,665 906.1,662.4 906.4,658.8 906.6,658.1 906.9,670.1 907.1,692 907.3,752.9 907.6,696.5 907.8,649 908,651.8 908.3,711.2 908.5,667.3 908.7,656.3 909,635.4 909.2,664.2 909.4,665.4 909.7,647.7 909.9,705.4 910.1,677.9 910.4,665.6 910.6,681.8 910.8,655.5 911.1,673.1 911.3,659 911.5,675.2 911.8,660.8 912,651.9 912.3,675.3 912.5,668.4 912.7,745.2 913,666.6 913.2,655 913.4,672 913.7,655.3 913.9,655.8 914.1,694.3 914.4,666.9 914.6,652 914.8,657.1 915.1,677.4 915.3,661.7 915.5,663.8 915.8,660 916,666.6 916.2,655.9 916.5,645.2 916.7,734.1 917,666.3 917.2,674.9 917.4,656.4 917.7,707.1 917.9,670.3 918.1,654.7 918.4,646.7 918.6,676.6 918.8,668.6 919.1,652.7 919.3,667.4 919.5,678.7 919.8,663.1 920,680.3 920.2,662.5 920.5,672.2 920.7,659.7 921,669.4 921.2,679.2 921.4,670.6 921.7,671.4 921.9,653.7 922.1,687.4 922.4,675.3 922.6,651.2 922.8,686 923.1,664 923.3,651.4 923.5,676.1 923.8,668.4 924,682.7 924.2,669.1 924.5,676.1 924.7,688.1 924.9,650.4 925.2,677.4 925.4,706.8 925.7,680.5 925.9,670.7 926.1,679.7 926.4,691.8 926.6,650 926.8,653.9 927.1,659.2 927.3,682.8 927.5,666.8 927.8,635.1 928,675 928.2,666.9 928.5,672.2 928.7,652.3 928.9,668.2 929.2,694.6 929.4,682.5 929.6,652.6 929.9,672.6 930.1,683.2 930.4,676.9 930.6,669.5 930.8,674.6 931.1,676.3 931.3,703.4 931.5,670.7 931.8,665.3 932,661.4 932.2,722.9 932.5,656.5 932.7,683.4 932.9,688.6 933.2,677.2 933.4,674 933.6,682 933.9,682.4 934.1,660.1 934.3,676.1 934.6,725.1 934.8,658 935,701 935.3,653.9 935.5,665.2 935.8,672.6 936,665.4 936.2,657.8 936.5,657.3 936.7,763.4 936.9,648.2 937.2,661.4 937.4,679.4 937.6,672.3 937.9,664.5 938.1,656.7 938.3,659 938.6,669 938.8,684.9 939,659.9 939.3,689 939.5,687.8 939.8,662.3 940,646.8 940.2,637.1 940.5,672.3 940.7,696.1 940.9,656.6 941.2,644.5 941.4,754.5 941.6,657.3 941.9,655.2 942.1,671.7 942.3,655.5 942.6,712.1 942.8,679.2 943,654 943.3,662.5 943.5,704.6 943.7,674.1 944,734.6 944.2,734 944.5,734.1 944.7,729.9 944.9,681.9 945.2,662.1 945.4,672.9 945.6,673.1 945.9,694.7 946.1,673.2 946.3,667 946.6,670 946.8,658.6 947,676.8 947.3,686.7 947.5,654 947.7,696.6 948,654.5 948.2,730.5 948.4,653.3 948.7,713.7 948.9,650.8 949.2,655.2 949.4,694.9 949.6,683.9 949.9,701.9 950.1,671.6 950.3,666.3 950.6,648.1 950.8,723.2 951,662.6 951.3,695.7 951.5,743 951.7,657.5 952,672.9 952.2,662.9 952.4,672.1 952.7,672 952.9,685.6 953.1,670.1 953.4,761.2 953.6,667.9 953.9,717.7 954.1,697.6 954.3,698.3 954.6,665.6 954.8,651.6 955,676.8 955.3,729.8 955.5,667 955.7,703.2 956,673.1 956.2,652.7 956.4,658.8 956.7,681.5 956.9,677.5 957.1,689.1 957.4,703.3 957.6,678.2 957.8,659.5 958.1,663.6 958.3,689.9 958.5,679.1 958.8,682.2 959,658.7 959.3,689.9 959.5,694.2 959.7,677 960,669.4 960.2,682.3 960.4,717.6 960.7,666.8 960.9,706.1 961.1,687.2 961.4,679.8 961.6,681.8 961.8,666.8 962.1,656.3 962.3,679.5 962.5,650.1 962.8,683.7 963,657.8 963.2,711.5 963.5,668.8 963.7,739.2 964,682.8 964.2,680 964.4,707.3 964.7,676.3 964.9,686.1 965.1,685.4 965.4,645.1 965.6,683.8 965.8,672.5 966.1,699.2 966.3,691.2 966.5,691.8 966.8,659.5 967,760.7 967.2,657.3 967.5,709 967.7,669.2 968,683.2 968.2,686.5 968.4,678.2 968.7,675.2 968.9,684 969.1,659.2 969.4,641.2 969.6,667.3 969.8,657.8 970.1,691.8 970.3,671.1 970.5,675.2 970.8,755.1 971,671.1 971.2,674.3 971.5,664.6 971.7,666.3 971.9,691.7 972.2,670.9 972.4,701.9 972.7,670.6 972.9,711.1 973.1,674.4 973.4,665.2 973.6,678.4 973.8,749.3 974.1,685.5 974.3,672.2 974.5,662.4 974.8,688.5 975,718.3 975.2,687.4 975.5,679.1 975.7,658.9 975.9,693.4 976.2,683.2 976.4,661.2 976.6,706.8 976.9,698.8 977.1,682.3 977.4,691.3 977.6,754.5 977.8,677.1 978.1,677.6 978.3,735.5 978.5,684.1 978.8,671 979,703.6 979.2,692.9 979.5,684.4"/>
<rect x="613.6" y="533.6" width="380.5" height="301.2" fill="none" stroke="#000" stroke-width="1.45"/>
<line x1="600.2" y1="535.2" x2="613.6" y2="535.2" stroke="#000" stroke-width="1.45"/>
<text transform="translate(582.6 535.2) rotate(-90) scale(1 0.98)" font-size="21.7" text-anchor="middle" >100</text>
<line x1="600.2" y1="583.8" x2="613.6" y2="583.8" stroke="#000" stroke-width="1.45"/>
<text transform="translate(582.6 583.8) rotate(-90) scale(1 0.98)" font-size="21.7" text-anchor="middle" >10</text>
<line x1="600.2" y1="632.4" x2="613.6" y2="632.4" stroke="#000" stroke-width="1.45"/>
<text transform="translate(582.6 632.4) rotate(-90) scale(1 0.98)" font-size="21.7" text-anchor="middle" >1</text>
<line x1="627.2" y1="834.8" x2="627.2" y2="848" stroke="#000" stroke-width="1.45"/>
<text transform="translate(627.2 881.7) scale(1 1.01)" font-size="21.7" text-anchor="middle" >0</text>
<line x1="744.7" y1="834.8" x2="744.7" y2="848" stroke="#000" stroke-width="1.45"/>
<text transform="translate(744.7 881.7) scale(1 1.01)" font-size="21.7" text-anchor="middle" >500</text>
<line x1="862.2" y1="834.8" x2="862.2" y2="848" stroke="#000" stroke-width="1.45"/>
<text transform="translate(862.2 881.7) scale(1 1.01)" font-size="21.7" text-anchor="middle" >1000</text>
<line x1="979.7" y1="834.8" x2="979.7" y2="848" stroke="#000" stroke-width="1.45"/>
<text transform="translate(979.7 881.7) scale(1 1.01)" font-size="21.7" text-anchor="middle" >1500</text>
<text transform="translate(803.4 933.4) scale(1 1.01)" font-size="21.7" text-anchor="middle" >gap=n</text>
<text transform="translate(530 684.2) rotate(-90) scale(1 0.98)" font-size="21.7" text-anchor="middle" >M(n)</text>
<g font-family="'Liberation Serif', 'Times New Roman', serif"><text x="737.1" y="989.5" font-size="32.9">(</text><text x="748.8" y="990.4" font-size="35.2" font-weight="bold">d</text><text x="768.4" y="989.5" font-size="32.9">)</text></g>
</svg>
</body></html>
